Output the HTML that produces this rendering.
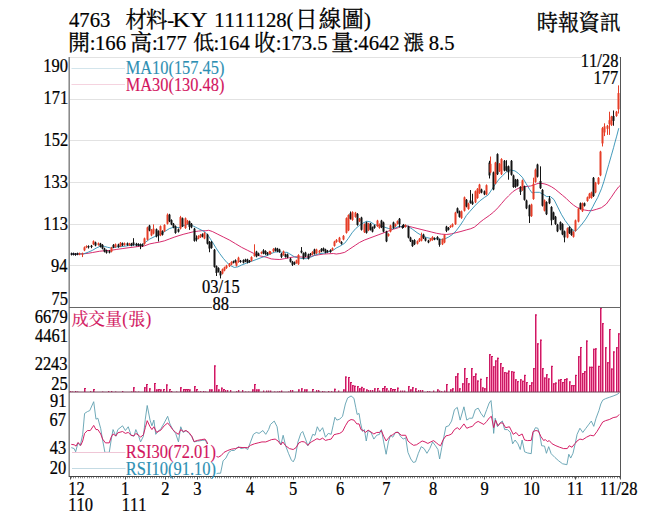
<!DOCTYPE html>
<html><head><meta charset="utf-8"><title>4763 chart</title>
<style>
html,body{margin:0;padding:0;background:#fff;}
body{width:656px;height:527px;overflow:hidden;font-family:"Liberation Serif",serif;}
svg{display:block;}
text{font-family:"Liberation Serif","Noto Serif CJK SC",serif;font-kerning:none;font-variant-ligatures:none;}
</style></head><body>
<svg width="656" height="527" viewBox="0 0 656 527"><line x1="69.7" y1="57.5" x2="620.5" y2="57.5" stroke="#e2e2e2" stroke-width="1"/>
<line x1="69.7" y1="99.5" x2="620.5" y2="99.5" stroke="#e2e2e2" stroke-width="1"/>
<line x1="69.7" y1="140.5" x2="620.5" y2="140.5" stroke="#e2e2e2" stroke-width="1"/>
<line x1="69.7" y1="182.5" x2="620.5" y2="182.5" stroke="#e2e2e2" stroke-width="1"/>
<line x1="69.7" y1="224.5" x2="620.5" y2="224.5" stroke="#e2e2e2" stroke-width="1"/>
<line x1="69.7" y1="265.5" x2="620.5" y2="265.5" stroke="#e2e2e2" stroke-width="1"/>
<line x1="71.5" y1="68.5" x2="125" y2="68.5" stroke="#d3e5ec" stroke-width="1"/>
<line x1="71.5" y1="84.5" x2="125" y2="84.5" stroke="#f5d3df" stroke-width="1"/>
<polyline fill="none" stroke="#d2145e" stroke-width="0.9" stroke-linejoin="round" points="71.05,254.02 77.76,254.02 83.85,253.78 88.12,253.29 92.39,252.56 99.71,251.22 104.59,250.73 110.68,250.37 116.78,249.39 122.88,248.54 128.98,247.68 135.07,246.95 139.95,246.22 141.22,246.71 144.88,245.73 149.76,243.9 154.63,242.93 159.51,242.07 164.39,240.85 169.27,239.02 174.15,237.2 179.02,235.61 183.9,234.15 188.78,232.93 193.66,231.71 198.54,231.1 203.41,230.49 205,230.88 208.66,230.27 212.32,231.49 217.2,233.93 223.29,236.98 229.39,240.02 235.49,243.68 241.59,247.34 247.68,250.39 253.78,253.44 259.88,255.88 265.98,257.1 271.22,258.9 274.88,259.27 279.76,259.51 284.63,258.66 289.51,257.68 294.39,256.83 299.27,256.83 304.15,257.2 309.02,256.83 313.9,255.61 318.78,254.76 323.66,254.02 328.54,253.78 333.41,253.54 336.22,254.02 339.88,253.54 344.76,252.32 348.41,249.88 352.07,247.44 355.73,245 359.39,242.56 364.27,240.12 369.15,238.29 374.02,236.46 378.9,234.63 383.78,232.8 388.66,230.98 393.54,229.15 398.41,227.68 401.22,226.46 407.32,225.98 412.2,227.2 417.07,228.41 421.95,229.63 426.83,230.85 431.71,232.07 436.59,233.29 441.46,234.15 446.34,234.51 451.22,233.9 456.1,232.68 460.98,231.46 466.22,229.95 470.73,228.73 474.39,227.15 478.05,224.1 480,222.27 483.29,219.71 489.39,215.44 493.66,212.02 497.93,207.76 501.59,203.49 505.24,199.22 508.9,195.56 512.56,191.9 516.22,189.46 519.88,187.63 523.54,186.78 527.2,186.41 530.24,186.05 532.07,185.61 534.51,184.63 538.17,183.41 541.83,183.41 545,184.02 547.93,185 551.59,186.83 555.24,189.27 558.9,192.32 562.56,195.37 566.22,198.41 569.88,202.07 573.54,205.12 577.2,207.56 580.85,208.78 584.51,210 588.17,210.61 591.83,210.61 596.59,209.27 601.46,207.68 606.34,204.02 611.22,197.32 614.88,191.83 618.54,186.95 620.37,185.37"/>
<polyline fill="none" stroke="#2e8fb3" stroke-width="0.9" stroke-linejoin="round" points="71.05,254.02 77.76,254.02 83.85,253.78 88.12,252.2 92.39,250.37 96.05,248.17 99.71,246.46 102.15,246.1 104.59,246.46 107.63,247.32 110.68,247.93 113.73,247.56 116.78,246.95 122.88,246.46 128.98,245.49 135.07,244.88 141.22,245.37 144.88,242.68 149.76,239.02 154.63,236.59 159.51,234.76 164.39,231.71 169.27,228.66 174.15,227.07 176.59,227.44 180.24,227.44 185.12,225 188.78,224.15 192.44,225.61 197.32,228.05 202.2,230.49 205,232.1 208.66,236.37 212.32,241.85 215.98,247.95 219.63,253.44 223.29,258.32 226.95,262.59 230.61,265.63 234.27,267.46 237.93,266.85 241.59,265.02 246.46,263.2 251.34,261.37 256.22,259.54 261.1,257.71 265.98,255.88 270.85,254.05 271.22,253.54 274.88,252.07 278.54,251.83 282.2,252.32 287.07,252.32 289.51,253.78 294.39,256.83 299.27,258.05 302.93,258.66 306.59,258.66 310.24,257.44 313.9,255.61 318.78,253.78 323.66,253.17 328.54,251.95 333.41,250.12 336.22,248.05 339.88,246.22 344.76,243.17 348.41,238.29 352.07,232.8 355.73,228.54 359.39,225.49 363.05,223.05 366.71,221.22 370.37,221.83 374.02,224.27 377.68,225.49 381.34,226.1 385,227.32 388.66,228.54 392.32,228.9 395.98,227.68 399.63,226.1 401.22,226.59 404.27,225.61 407.32,225.98 412.2,229.02 417.07,232.68 421.95,235.73 426.83,237.56 431.71,238.78 436.59,238.78 441.46,239.39 445.12,238.78 448.78,236.95 452.44,234.51 456.1,230.85 459.76,225.98 463.41,220.49 466.22,215.68 469.88,211.41 474.76,205.93 479.63,201.05 484.51,197.39 488.17,194.95 491.83,189.46 495.49,183.98 499.15,179.1 502.8,175.44 506.46,171.78 510.12,169.95 515,170.93 518.66,173.61 522.32,177.27 525.98,183.37 529.63,189.46 532.07,192.93 535.73,192.32 539.39,192.32 543.05,194.15 546.71,196.59 550.37,196.59 554.02,199.63 557.68,206.95 561.34,214.27 565,220.37 568.66,225.24 572.32,229.51 575.37,231.34 578.41,228.29 582.07,224.02 585.73,219.15 589.39,213.05 593.05,206.34 594.15,204.02 597.8,197.32 601.46,188.78 603.9,181.46 606.34,172.93 608.78,164.39 611.22,155.85 613.66,147.32 614.51,144.02 616.71,136.1 618.78,128.17"/>
<rect x="71" y="252.61" width="1" height="2.82" fill="#141414"/>
<rect x="70.5" y="253.41" width="2" height="1.22" fill="#141414"/>
<rect x="73" y="252.61" width="1" height="2.82" fill="#141414"/>
<rect x="72.5" y="253.41" width="2" height="1.22" fill="#141414"/>
<rect x="75" y="252.98" width="1" height="2.82" fill="#141414"/>
<rect x="74.5" y="253.78" width="2" height="1.22" fill="#141414"/>
<rect x="77" y="252.61" width="1" height="2.6" fill="#141414"/>
<rect x="76.5" y="253.41" width="2" height="1" fill="#141414"/>
<rect x="79" y="252.61" width="1" height="2.6" fill="#e63e28"/>
<rect x="78.5" y="253.41" width="2" height="1" fill="#e63e28"/>
<rect x="82" y="252.61" width="1" height="4.46" fill="#e63e28"/>
<rect x="81.5" y="253.41" width="2" height="1.22" fill="#e63e28"/>
<rect x="84" y="246.46" width="1" height="4.7" fill="#e63e28"/>
<rect x="83.5" y="247.32" width="2" height="3.05" fill="#e63e28"/>
<rect x="86" y="245.3" width="1" height="2.82" fill="#e63e28"/>
<rect x="85.5" y="246.1" width="2" height="1.22" fill="#e63e28"/>
<rect x="88" y="245.3" width="1" height="3.24" fill="#141414"/>
<rect x="87.5" y="246.1" width="2" height="1.22" fill="#141414"/>
<rect x="91" y="244.93" width="1" height="3.24" fill="#141414"/>
<rect x="90.5" y="245.73" width="2" height="1.22" fill="#141414"/>
<rect x="93" y="240.37" width="1" height="4.7" fill="#e63e28"/>
<rect x="92.5" y="241.22" width="2" height="3.05" fill="#e63e28"/>
<rect x="95" y="241.64" width="1" height="4.65" fill="#141414"/>
<rect x="94.5" y="242.44" width="2" height="3.05" fill="#141414"/>
<rect x="98" y="242.49" width="1" height="3.19" fill="#e63e28"/>
<rect x="97.5" y="243.29" width="2" height="1.59" fill="#e63e28"/>
<rect x="100" y="242.86" width="1" height="4.65" fill="#141414"/>
<rect x="99.5" y="243.66" width="2" height="3.05" fill="#141414"/>
<rect x="102" y="244.08" width="1" height="5.26" fill="#141414"/>
<rect x="101.5" y="244.88" width="2" height="3.66" fill="#141414"/>
<rect x="104" y="247.74" width="1" height="4.65" fill="#141414"/>
<rect x="103.5" y="248.54" width="2" height="3.05" fill="#141414"/>
<rect x="106" y="249.57" width="1" height="4.04" fill="#141414"/>
<rect x="105.5" y="250.37" width="2" height="2.44" fill="#141414"/>
<rect x="109" y="250.18" width="1" height="3.19" fill="#141414"/>
<rect x="108.5" y="250.98" width="2" height="1.59" fill="#141414"/>
<rect x="111" y="246.88" width="1" height="5.5" fill="#e63e28"/>
<rect x="110.5" y="247.68" width="2" height="3.9" fill="#e63e28"/>
<rect x="113" y="244.08" width="1" height="4.04" fill="#141414"/>
<rect x="112.5" y="244.88" width="2" height="2.44" fill="#141414"/>
<rect x="115" y="243.47" width="1" height="4.28" fill="#e63e28"/>
<rect x="114.5" y="244.27" width="2" height="2.68" fill="#e63e28"/>
<rect x="118" y="243.71" width="1" height="4.04" fill="#141414"/>
<rect x="117.5" y="244.51" width="2" height="2.44" fill="#141414"/>
<rect x="120" y="242" width="1" height="4.89" fill="#e63e28"/>
<rect x="119.5" y="242.8" width="2" height="3.29" fill="#e63e28"/>
<rect x="122" y="242.49" width="1" height="3.55" fill="#141414"/>
<rect x="121.5" y="243.29" width="2" height="1.95" fill="#141414"/>
<rect x="124" y="242.49" width="1" height="3.19" fill="#e63e28"/>
<rect x="123.5" y="243.29" width="2" height="1.59" fill="#e63e28"/>
<rect x="127" y="242.49" width="1" height="3.31" fill="#141414"/>
<rect x="126.5" y="243.29" width="2" height="1.71" fill="#141414"/>
<rect x="129" y="242.86" width="1" height="3.06" fill="#e63e28"/>
<rect x="128.5" y="243.66" width="2" height="1.46" fill="#e63e28"/>
<rect x="131" y="242.86" width="1" height="3.43" fill="#141414"/>
<rect x="130.5" y="243.66" width="2" height="1.83" fill="#141414"/>
<rect x="133" y="238.17" width="1" height="7.51" fill="#141414"/>
<rect x="132.5" y="242.44" width="2" height="2.44" fill="#141414"/>
<rect x="136" y="242.86" width="1" height="3.43" fill="#141414"/>
<rect x="135.5" y="243.66" width="2" height="1.83" fill="#141414"/>
<rect x="138" y="243.22" width="1" height="3.06" fill="#141414"/>
<rect x="137.5" y="244.02" width="2" height="1.46" fill="#141414"/>
<rect x="140" y="243.47" width="1" height="5.68" fill="#141414"/>
<rect x="139.5" y="244.27" width="2" height="1.83" fill="#141414"/>
<rect x="142" y="243.47" width="1" height="3.43" fill="#141414"/>
<rect x="141.5" y="244.27" width="2" height="1.83" fill="#141414"/>
<rect x="144" y="237.61" width="1" height="7.09" fill="#e63e28"/>
<rect x="143.5" y="238.41" width="2" height="5.49" fill="#e63e28"/>
<rect x="147" y="226.64" width="1" height="13.8" fill="#e63e28"/>
<rect x="146.5" y="227.44" width="2" height="12.2" fill="#e63e28"/>
<rect x="149" y="224.81" width="1" height="6.48" fill="#141414"/>
<rect x="148.5" y="225.61" width="2" height="4.88" fill="#141414"/>
<rect x="151" y="229.08" width="1" height="7.09" fill="#e63e28"/>
<rect x="150.5" y="229.88" width="2" height="5.49" fill="#e63e28"/>
<rect x="153" y="224.39" width="1" height="9.95" fill="#e63e28"/>
<rect x="152.5" y="228.66" width="2" height="4.88" fill="#e63e28"/>
<rect x="156" y="228.47" width="1" height="8.92" fill="#141414"/>
<rect x="155.5" y="229.27" width="2" height="7.32" fill="#141414"/>
<rect x="158" y="230.3" width="1" height="11.17" fill="#141414"/>
<rect x="157.5" y="231.1" width="2" height="4.27" fill="#141414"/>
<rect x="160" y="225.42" width="1" height="10.75" fill="#e63e28"/>
<rect x="159.5" y="226.22" width="2" height="9.15" fill="#e63e28"/>
<rect x="162" y="230.3" width="1" height="5.26" fill="#141414"/>
<rect x="161.5" y="231.1" width="2" height="3.66" fill="#141414"/>
<rect x="164" y="224.2" width="1" height="7.7" fill="#e63e28"/>
<rect x="163.5" y="225" width="2" height="6.1" fill="#e63e28"/>
<rect x="167" y="213.41" width="1" height="11.17" fill="#e63e28"/>
<rect x="166.5" y="214.63" width="2" height="9.15" fill="#e63e28"/>
<rect x="169" y="213.83" width="1" height="8.31" fill="#141414"/>
<rect x="168.5" y="214.63" width="2" height="6.71" fill="#141414"/>
<rect x="171" y="219.32" width="1" height="5.87" fill="#141414"/>
<rect x="170.5" y="220.12" width="2" height="4.27" fill="#141414"/>
<rect x="173" y="222.98" width="1" height="5.26" fill="#141414"/>
<rect x="172.5" y="223.78" width="2" height="3.66" fill="#141414"/>
<rect x="175" y="225.42" width="1" height="8.31" fill="#141414"/>
<rect x="174.5" y="226.22" width="2" height="6.71" fill="#141414"/>
<rect x="178" y="228.47" width="1" height="4.04" fill="#141414"/>
<rect x="177.5" y="229.27" width="2" height="2.44" fill="#141414"/>
<rect x="180" y="215.85" width="1" height="13.6" fill="#e63e28"/>
<rect x="179.5" y="217.07" width="2" height="11.59" fill="#e63e28"/>
<rect x="182" y="217.49" width="1" height="9.53" fill="#141414"/>
<rect x="181.5" y="218.29" width="2" height="7.93" fill="#141414"/>
<rect x="185" y="217.49" width="1" height="11.36" fill="#e63e28"/>
<rect x="184.5" y="218.29" width="2" height="9.76" fill="#e63e28"/>
<rect x="187" y="219.93" width="1" height="4.65" fill="#e63e28"/>
<rect x="186.5" y="220.73" width="2" height="3.05" fill="#e63e28"/>
<rect x="189" y="220.54" width="1" height="9.34" fill="#141414"/>
<rect x="188.5" y="221.34" width="2" height="5.49" fill="#141414"/>
<rect x="191" y="222.98" width="1" height="5.26" fill="#141414"/>
<rect x="190.5" y="223.78" width="2" height="3.66" fill="#141414"/>
<rect x="194" y="227.86" width="1" height="13.8" fill="#141414"/>
<rect x="193.5" y="228.66" width="2" height="12.2" fill="#141414"/>
<rect x="196" y="235.37" width="1" height="6.1" fill="#141414"/>
<rect x="195.5" y="237.8" width="2" height="1.83" fill="#141414"/>
<rect x="198" y="235.18" width="1" height="4.04" fill="#e63e28"/>
<rect x="197.5" y="235.98" width="2" height="2.44" fill="#e63e28"/>
<rect x="200" y="233.96" width="1" height="4.04" fill="#e63e28"/>
<rect x="199.5" y="234.76" width="2" height="2.44" fill="#e63e28"/>
<rect x="202" y="233.35" width="1" height="4.04" fill="#141414"/>
<rect x="201.5" y="234.15" width="2" height="2.44" fill="#141414"/>
<rect x="204" y="232.13" width="1" height="7.09" fill="#e63e28"/>
<rect x="203.5" y="232.93" width="2" height="5.49" fill="#e63e28"/>
<rect x="207" y="233.74" width="1" height="10.75" fill="#141414"/>
<rect x="206.5" y="234.54" width="2" height="9.15" fill="#141414"/>
<rect x="209" y="241.05" width="1" height="11.17" fill="#141414"/>
<rect x="208.5" y="241.85" width="2" height="6.71" fill="#141414"/>
<rect x="211" y="241.05" width="1" height="7.7" fill="#141414"/>
<rect x="210.5" y="241.85" width="2" height="6.1" fill="#141414"/>
<rect x="214" y="248.98" width="1" height="18.67" fill="#141414"/>
<rect x="213.5" y="249.78" width="2" height="17.07" fill="#141414"/>
<rect x="216" y="265.44" width="1" height="10.56" fill="#141414"/>
<rect x="215.5" y="266.24" width="2" height="6.71" fill="#141414"/>
<rect x="218" y="267.27" width="1" height="5.26" fill="#141414"/>
<rect x="217.5" y="268.07" width="2" height="3.66" fill="#141414"/>
<rect x="220" y="270.93" width="1" height="7.51" fill="#141414"/>
<rect x="219.5" y="271.73" width="2" height="3.66" fill="#141414"/>
<rect x="222" y="268.49" width="1" height="5.87" fill="#e63e28"/>
<rect x="221.5" y="269.29" width="2" height="4.27" fill="#e63e28"/>
<rect x="224" y="266.66" width="1" height="4.65" fill="#e63e28"/>
<rect x="223.5" y="267.46" width="2" height="3.05" fill="#e63e28"/>
<rect x="226" y="264.83" width="1" height="4.04" fill="#e63e28"/>
<rect x="225.5" y="265.63" width="2" height="2.44" fill="#e63e28"/>
<rect x="229" y="263" width="1" height="4.04" fill="#e63e28"/>
<rect x="228.5" y="263.8" width="2" height="2.44" fill="#e63e28"/>
<rect x="231" y="261.18" width="1" height="4.04" fill="#e63e28"/>
<rect x="230.5" y="261.98" width="2" height="2.44" fill="#e63e28"/>
<rect x="233" y="260.57" width="1" height="2.82" fill="#141414"/>
<rect x="232.5" y="261.37" width="2" height="1.22" fill="#141414"/>
<rect x="235" y="259.35" width="1" height="4.04" fill="#141414"/>
<rect x="234.5" y="260.15" width="2" height="2.44" fill="#141414"/>
<rect x="236" y="261.18" width="1" height="5.26" fill="#e63e28"/>
<rect x="235.5" y="261.98" width="2" height="3.66" fill="#e63e28"/>
<rect x="238" y="256.73" width="1" height="6.04" fill="#e63e28"/>
<rect x="237.5" y="257.71" width="2" height="4.27" fill="#e63e28"/>
<rect x="240" y="259.96" width="1" height="2.82" fill="#141414"/>
<rect x="239.5" y="260.76" width="2" height="1.22" fill="#141414"/>
<rect x="243" y="259.35" width="1" height="4.04" fill="#141414"/>
<rect x="242.5" y="260.15" width="2" height="2.44" fill="#141414"/>
<rect x="245" y="258.74" width="1" height="3.43" fill="#141414"/>
<rect x="244.5" y="259.54" width="2" height="1.83" fill="#141414"/>
<rect x="247" y="258.74" width="1" height="4.65" fill="#141414"/>
<rect x="246.5" y="259.54" width="2" height="3.05" fill="#141414"/>
<rect x="249" y="259.96" width="1" height="2.82" fill="#141414"/>
<rect x="248.5" y="260.76" width="2" height="1.22" fill="#141414"/>
<rect x="251" y="256.3" width="1" height="5.26" fill="#e63e28"/>
<rect x="250.5" y="257.1" width="2" height="3.66" fill="#e63e28"/>
<rect x="254" y="244.29" width="1" height="12.39" fill="#e63e28"/>
<rect x="253.5" y="254.05" width="2" height="1.83" fill="#e63e28"/>
<rect x="256" y="250.81" width="1" height="6.48" fill="#141414"/>
<rect x="255.5" y="251.61" width="2" height="4.88" fill="#141414"/>
<rect x="258" y="252.64" width="1" height="3.43" fill="#141414"/>
<rect x="257.5" y="253.44" width="2" height="1.83" fill="#141414"/>
<rect x="261" y="251.42" width="1" height="2.82" fill="#e63e28"/>
<rect x="260.5" y="252.22" width="2" height="1.22" fill="#e63e28"/>
<rect x="263" y="249.17" width="1" height="5.07" fill="#141414"/>
<rect x="262.5" y="250.39" width="2" height="3.05" fill="#141414"/>
<rect x="265" y="250.2" width="1" height="4.65" fill="#141414"/>
<rect x="264.5" y="251" width="2" height="3.05" fill="#141414"/>
<rect x="267" y="252.03" width="1" height="3.43" fill="#141414"/>
<rect x="266.5" y="252.83" width="2" height="1.83" fill="#141414"/>
<rect x="269" y="250.81" width="1" height="3.43" fill="#e63e28"/>
<rect x="268.5" y="251.61" width="2" height="1.83" fill="#e63e28"/>
<rect x="270" y="251.15" width="1" height="3.43" fill="#e63e28"/>
<rect x="269.5" y="251.95" width="2" height="1.83" fill="#e63e28"/>
<rect x="273" y="248.1" width="1" height="4.04" fill="#e63e28"/>
<rect x="272.5" y="248.9" width="2" height="2.44" fill="#e63e28"/>
<rect x="275" y="247.49" width="1" height="4.04" fill="#141414"/>
<rect x="274.5" y="248.29" width="2" height="2.44" fill="#141414"/>
<rect x="277" y="247.86" width="1" height="4.28" fill="#141414"/>
<rect x="276.5" y="248.66" width="2" height="2.68" fill="#141414"/>
<rect x="279" y="248.71" width="1" height="4.04" fill="#141414"/>
<rect x="278.5" y="249.51" width="2" height="2.44" fill="#141414"/>
<rect x="281" y="252.98" width="1" height="5.07" fill="#141414"/>
<rect x="280.5" y="253.78" width="2" height="3.05" fill="#141414"/>
<rect x="283" y="250.54" width="1" height="5.26" fill="#e63e28"/>
<rect x="282.5" y="251.34" width="2" height="3.66" fill="#e63e28"/>
<rect x="285" y="253.59" width="1" height="4.04" fill="#141414"/>
<rect x="284.5" y="254.39" width="2" height="2.44" fill="#141414"/>
<rect x="287" y="253.59" width="1" height="4.65" fill="#141414"/>
<rect x="286.5" y="254.39" width="2" height="3.05" fill="#141414"/>
<rect x="290" y="257.86" width="1" height="4.65" fill="#141414"/>
<rect x="289.5" y="258.66" width="2" height="3.05" fill="#141414"/>
<rect x="292" y="260.91" width="1" height="5.07" fill="#141414"/>
<rect x="291.5" y="261.71" width="2" height="3.05" fill="#141414"/>
<rect x="294" y="261.52" width="1" height="3.43" fill="#141414"/>
<rect x="293.5" y="262.32" width="2" height="1.83" fill="#141414"/>
<rect x="296" y="259.69" width="1" height="4.04" fill="#e63e28"/>
<rect x="295.5" y="260.49" width="2" height="2.44" fill="#e63e28"/>
<rect x="298" y="254.2" width="1" height="10.75" fill="#e63e28"/>
<rect x="297.5" y="255" width="2" height="9.15" fill="#e63e28"/>
<rect x="301" y="247.07" width="1" height="6.29" fill="#141414"/>
<rect x="300.5" y="250.73" width="2" height="1.83" fill="#141414"/>
<rect x="303" y="252.37" width="1" height="7.09" fill="#141414"/>
<rect x="302.5" y="253.17" width="2" height="5.49" fill="#141414"/>
<rect x="305" y="251.76" width="1" height="5.26" fill="#141414"/>
<rect x="304.5" y="252.56" width="2" height="3.66" fill="#141414"/>
<rect x="308" y="253.59" width="1" height="5.87" fill="#141414"/>
<rect x="307.5" y="254.39" width="2" height="4.27" fill="#141414"/>
<rect x="310" y="252.98" width="1" height="2.82" fill="#141414"/>
<rect x="309.5" y="253.78" width="2" height="1.22" fill="#141414"/>
<rect x="312" y="251.15" width="1" height="4.04" fill="#e63e28"/>
<rect x="311.5" y="251.95" width="2" height="2.44" fill="#e63e28"/>
<rect x="314" y="248.71" width="1" height="5.87" fill="#141414"/>
<rect x="313.5" y="249.51" width="2" height="4.27" fill="#141414"/>
<rect x="316" y="248.71" width="1" height="5.26" fill="#e63e28"/>
<rect x="315.5" y="249.51" width="2" height="3.66" fill="#e63e28"/>
<rect x="319" y="249.93" width="1" height="3.43" fill="#e63e28"/>
<rect x="318.5" y="250.73" width="2" height="1.83" fill="#e63e28"/>
<rect x="321" y="248.1" width="1" height="4.04" fill="#141414"/>
<rect x="320.5" y="248.9" width="2" height="2.44" fill="#141414"/>
<rect x="323" y="247.49" width="1" height="4.04" fill="#141414"/>
<rect x="322.5" y="248.29" width="2" height="2.44" fill="#141414"/>
<rect x="325" y="248.71" width="1" height="4.65" fill="#141414"/>
<rect x="324.5" y="249.51" width="2" height="3.05" fill="#141414"/>
<rect x="327" y="249.93" width="1" height="2.82" fill="#141414"/>
<rect x="326.5" y="250.73" width="2" height="1.22" fill="#141414"/>
<rect x="330" y="249.32" width="1" height="3.43" fill="#141414"/>
<rect x="329.5" y="250.12" width="2" height="1.83" fill="#141414"/>
<rect x="332" y="247.49" width="1" height="3.43" fill="#e63e28"/>
<rect x="331.5" y="248.29" width="2" height="1.83" fill="#e63e28"/>
<rect x="334" y="240.79" width="1" height="5.87" fill="#e63e28"/>
<rect x="333.5" y="241.59" width="2" height="4.27" fill="#e63e28"/>
<rect x="336" y="239.08" width="1" height="3.67" fill="#e63e28"/>
<rect x="335.5" y="239.88" width="2" height="2.07" fill="#e63e28"/>
<rect x="339" y="236.88" width="1" height="5.87" fill="#e63e28"/>
<rect x="338.5" y="237.68" width="2" height="4.27" fill="#e63e28"/>
<rect x="341" y="241.15" width="1" height="3.43" fill="#141414"/>
<rect x="340.5" y="241.95" width="2" height="1.83" fill="#141414"/>
<rect x="343" y="235.05" width="1" height="5.26" fill="#e63e28"/>
<rect x="342.5" y="235.85" width="2" height="3.66" fill="#e63e28"/>
<rect x="346" y="217.37" width="1" height="16.23" fill="#e63e28"/>
<rect x="345.5" y="218.17" width="2" height="14.63" fill="#e63e28"/>
<rect x="348" y="214.32" width="1" height="16.84" fill="#e63e28"/>
<rect x="347.5" y="215.12" width="2" height="15.24" fill="#e63e28"/>
<rect x="350" y="211.46" width="1" height="8.12" fill="#141414"/>
<rect x="349.5" y="213.29" width="2" height="5.49" fill="#141414"/>
<rect x="352" y="211.27" width="1" height="9.53" fill="#e63e28"/>
<rect x="351.5" y="212.07" width="2" height="7.93" fill="#e63e28"/>
<rect x="355" y="211.88" width="1" height="5.87" fill="#e63e28"/>
<rect x="354.5" y="212.68" width="2" height="4.27" fill="#e63e28"/>
<rect x="357" y="213.1" width="1" height="12.58" fill="#141414"/>
<rect x="356.5" y="213.9" width="2" height="10.98" fill="#141414"/>
<rect x="359" y="217.98" width="1" height="4.04" fill="#e63e28"/>
<rect x="358.5" y="218.78" width="2" height="2.44" fill="#e63e28"/>
<rect x="361" y="216.76" width="1" height="13.8" fill="#141414"/>
<rect x="360.5" y="217.56" width="2" height="12.2" fill="#141414"/>
<rect x="364" y="223.47" width="1" height="9.53" fill="#e63e28"/>
<rect x="363.5" y="224.27" width="2" height="7.93" fill="#e63e28"/>
<rect x="366" y="221.64" width="1" height="11.97" fill="#141414"/>
<rect x="365.5" y="222.44" width="2" height="10.37" fill="#141414"/>
<rect x="368" y="222.86" width="1" height="8.31" fill="#e63e28"/>
<rect x="367.5" y="223.66" width="2" height="6.71" fill="#e63e28"/>
<rect x="370" y="222.86" width="1" height="7.7" fill="#141414"/>
<rect x="369.5" y="223.66" width="2" height="6.1" fill="#141414"/>
<rect x="372" y="226.52" width="1" height="5.87" fill="#141414"/>
<rect x="371.5" y="227.32" width="2" height="4.27" fill="#141414"/>
<rect x="374" y="224.69" width="1" height="4.04" fill="#141414"/>
<rect x="373.5" y="225.49" width="2" height="2.44" fill="#141414"/>
<rect x="377" y="219.81" width="1" height="7.09" fill="#e63e28"/>
<rect x="376.5" y="220.61" width="2" height="5.49" fill="#e63e28"/>
<rect x="379" y="223.47" width="1" height="5.26" fill="#e63e28"/>
<rect x="378.5" y="224.27" width="2" height="3.66" fill="#e63e28"/>
<rect x="381" y="219.81" width="1" height="8.31" fill="#141414"/>
<rect x="380.5" y="220.61" width="2" height="6.71" fill="#141414"/>
<rect x="383" y="221.64" width="1" height="10.75" fill="#141414"/>
<rect x="382.5" y="222.44" width="2" height="9.15" fill="#141414"/>
<rect x="386" y="230.79" width="1" height="11.36" fill="#141414"/>
<rect x="385.5" y="231.59" width="2" height="9.76" fill="#141414"/>
<rect x="388" y="233.22" width="1" height="3.43" fill="#e63e28"/>
<rect x="387.5" y="234.02" width="2" height="1.83" fill="#e63e28"/>
<rect x="390" y="224.69" width="1" height="7.7" fill="#e63e28"/>
<rect x="389.5" y="225.49" width="2" height="6.1" fill="#e63e28"/>
<rect x="393" y="221.64" width="1" height="7.09" fill="#141414"/>
<rect x="392.5" y="222.44" width="2" height="5.49" fill="#141414"/>
<rect x="395" y="223.47" width="1" height="3.43" fill="#e63e28"/>
<rect x="394.5" y="224.27" width="2" height="1.83" fill="#e63e28"/>
<rect x="397" y="220.42" width="1" height="4.04" fill="#e63e28"/>
<rect x="396.5" y="221.22" width="2" height="2.44" fill="#e63e28"/>
<rect x="399" y="217.98" width="1" height="9.34" fill="#141414"/>
<rect x="398.5" y="218.78" width="2" height="5.49" fill="#141414"/>
<rect x="402" y="225.3" width="1" height="3.43" fill="#141414"/>
<rect x="401.5" y="226.1" width="2" height="1.83" fill="#141414"/>
<rect x="403" y="223.96" width="1" height="4.04" fill="#141414"/>
<rect x="402.5" y="224.76" width="2" height="2.44" fill="#141414"/>
<rect x="405" y="224.32" width="1" height="3.31" fill="#e63e28"/>
<rect x="404.5" y="225.12" width="2" height="1.71" fill="#e63e28"/>
<rect x="408" y="225.79" width="1" height="12.58" fill="#141414"/>
<rect x="407.5" y="226.59" width="2" height="10.98" fill="#141414"/>
<rect x="410" y="236.76" width="1" height="5.26" fill="#141414"/>
<rect x="409.5" y="237.56" width="2" height="3.66" fill="#141414"/>
<rect x="412" y="239.81" width="1" height="7.09" fill="#141414"/>
<rect x="411.5" y="240.61" width="2" height="5.49" fill="#141414"/>
<rect x="414" y="239.2" width="1" height="5.87" fill="#141414"/>
<rect x="413.5" y="240" width="2" height="4.27" fill="#141414"/>
<rect x="417" y="240.42" width="1" height="4.04" fill="#e63e28"/>
<rect x="416.5" y="241.22" width="2" height="2.44" fill="#e63e28"/>
<rect x="419" y="237.98" width="1" height="4.04" fill="#e63e28"/>
<rect x="418.5" y="238.78" width="2" height="2.44" fill="#e63e28"/>
<rect x="421" y="232.68" width="1" height="8.73" fill="#e63e28"/>
<rect x="420.5" y="235.73" width="2" height="4.88" fill="#e63e28"/>
<rect x="423" y="233.71" width="1" height="5.26" fill="#141414"/>
<rect x="422.5" y="234.51" width="2" height="3.66" fill="#141414"/>
<rect x="425" y="237.37" width="1" height="4.04" fill="#141414"/>
<rect x="424.5" y="238.17" width="2" height="2.44" fill="#141414"/>
<rect x="428" y="239.81" width="1" height="3.43" fill="#141414"/>
<rect x="427.5" y="240.61" width="2" height="1.83" fill="#141414"/>
<rect x="430" y="237.98" width="1" height="3.43" fill="#e63e28"/>
<rect x="429.5" y="238.78" width="2" height="1.83" fill="#e63e28"/>
<rect x="432" y="236.15" width="1" height="4.65" fill="#e63e28"/>
<rect x="431.5" y="236.95" width="2" height="3.05" fill="#e63e28"/>
<rect x="434" y="237.37" width="1" height="2.82" fill="#141414"/>
<rect x="433.5" y="238.17" width="2" height="1.22" fill="#141414"/>
<rect x="437" y="236.15" width="1" height="4.04" fill="#141414"/>
<rect x="436.5" y="236.95" width="2" height="2.44" fill="#141414"/>
<rect x="439" y="238.59" width="1" height="8.12" fill="#141414"/>
<rect x="438.5" y="239.39" width="2" height="5.49" fill="#141414"/>
<rect x="442" y="238.59" width="1" height="6.48" fill="#e63e28"/>
<rect x="441.5" y="239.39" width="2" height="4.88" fill="#e63e28"/>
<rect x="444" y="234.32" width="1" height="8.92" fill="#e63e28"/>
<rect x="443.5" y="235.12" width="2" height="7.32" fill="#e63e28"/>
<rect x="446" y="225.79" width="1" height="6.29" fill="#141414"/>
<rect x="445.5" y="226.59" width="2" height="4.27" fill="#141414"/>
<rect x="448" y="227" width="1" height="3.43" fill="#141414"/>
<rect x="447.5" y="227.8" width="2" height="1.83" fill="#141414"/>
<rect x="450" y="225.18" width="1" height="2.82" fill="#e63e28"/>
<rect x="449.5" y="225.98" width="2" height="1.22" fill="#e63e28"/>
<rect x="452" y="223.35" width="1" height="4.04" fill="#e63e28"/>
<rect x="451.5" y="224.15" width="2" height="2.44" fill="#e63e28"/>
<rect x="455" y="211.76" width="1" height="13.19" fill="#e63e28"/>
<rect x="454.5" y="212.56" width="2" height="11.59" fill="#e63e28"/>
<rect x="457" y="207.49" width="1" height="5.87" fill="#141414"/>
<rect x="456.5" y="208.29" width="2" height="4.27" fill="#141414"/>
<rect x="459" y="210.54" width="1" height="7.09" fill="#141414"/>
<rect x="458.5" y="211.34" width="2" height="5.49" fill="#141414"/>
<rect x="461" y="210.54" width="1" height="8.31" fill="#e63e28"/>
<rect x="460.5" y="211.34" width="2" height="6.71" fill="#e63e28"/>
<rect x="464" y="196.52" width="1" height="15.01" fill="#e63e28"/>
<rect x="463.5" y="197.32" width="2" height="13.41" fill="#e63e28"/>
<rect x="466" y="199.03" width="1" height="8.31" fill="#141414"/>
<rect x="465.5" y="199.83" width="2" height="6.71" fill="#141414"/>
<rect x="468" y="202.69" width="1" height="7.09" fill="#e63e28"/>
<rect x="467.5" y="203.49" width="2" height="5.49" fill="#e63e28"/>
<rect x="470" y="190.07" width="1" height="13.6" fill="#141414"/>
<rect x="469.5" y="200.44" width="2" height="2.44" fill="#141414"/>
<rect x="472" y="193.73" width="1" height="11.17" fill="#141414"/>
<rect x="471.5" y="201.66" width="2" height="2.44" fill="#141414"/>
<rect x="475" y="190.49" width="1" height="12.58" fill="#e63e28"/>
<rect x="474.5" y="191.29" width="2" height="10.98" fill="#e63e28"/>
<rect x="477" y="188.05" width="1" height="10.75" fill="#e63e28"/>
<rect x="476.5" y="188.85" width="2" height="9.15" fill="#e63e28"/>
<rect x="479" y="183.79" width="1" height="10.14" fill="#e63e28"/>
<rect x="478.5" y="184.59" width="2" height="8.54" fill="#e63e28"/>
<rect x="481" y="188.66" width="1" height="4.65" fill="#141414"/>
<rect x="480.5" y="189.46" width="2" height="3.05" fill="#141414"/>
<rect x="484" y="190.49" width="1" height="4.65" fill="#141414"/>
<rect x="483.5" y="191.29" width="2" height="3.05" fill="#141414"/>
<rect x="486" y="184.4" width="1" height="10.75" fill="#e63e28"/>
<rect x="485.5" y="185.2" width="2" height="9.15" fill="#e63e28"/>
<rect x="489" y="160.8" width="1" height="17.68" fill="#141414"/>
<rect x="488.5" y="162.63" width="2" height="12.8" fill="#141414"/>
<rect x="490" y="156.54" width="1" height="16.65" fill="#e63e28"/>
<rect x="489.5" y="163.85" width="2" height="8.54" fill="#e63e28"/>
<rect x="493" y="171.59" width="1" height="18.67" fill="#141414"/>
<rect x="492.5" y="172.39" width="2" height="17.07" fill="#141414"/>
<rect x="495" y="161.83" width="1" height="22.33" fill="#e63e28"/>
<rect x="494.5" y="162.63" width="2" height="20.73" fill="#e63e28"/>
<rect x="497" y="153.3" width="1" height="21.72" fill="#141414"/>
<rect x="496.5" y="154.1" width="2" height="20.12" fill="#141414"/>
<rect x="499" y="163.05" width="1" height="8.92" fill="#e63e28"/>
<rect x="498.5" y="163.85" width="2" height="7.32" fill="#e63e28"/>
<rect x="501" y="158.18" width="1" height="16.84" fill="#e63e28"/>
<rect x="500.5" y="158.98" width="2" height="15.24" fill="#e63e28"/>
<rect x="504" y="160" width="1" height="11.36" fill="#141414"/>
<rect x="503.5" y="160.8" width="2" height="9.76" fill="#141414"/>
<rect x="506" y="160.2" width="1" height="11.17" fill="#141414"/>
<rect x="505.5" y="166.29" width="2" height="4.27" fill="#141414"/>
<rect x="508" y="165.49" width="1" height="14.21" fill="#141414"/>
<rect x="507.5" y="166.29" width="2" height="6.1" fill="#141414"/>
<rect x="511" y="160" width="1" height="15.62" fill="#141414"/>
<rect x="510.5" y="160.8" width="2" height="14.02" fill="#141414"/>
<rect x="513" y="174.64" width="1" height="13.19" fill="#141414"/>
<rect x="512.5" y="175.44" width="2" height="11.59" fill="#141414"/>
<rect x="515" y="178.91" width="1" height="8.92" fill="#141414"/>
<rect x="514.5" y="179.71" width="2" height="7.32" fill="#141414"/>
<rect x="517" y="178.91" width="1" height="7.7" fill="#141414"/>
<rect x="516.5" y="179.71" width="2" height="6.1" fill="#141414"/>
<rect x="520" y="186.22" width="1" height="8.73" fill="#141414"/>
<rect x="519.5" y="187.02" width="2" height="4.88" fill="#141414"/>
<rect x="522" y="179.52" width="1" height="11.36" fill="#e63e28"/>
<rect x="521.5" y="180.32" width="2" height="9.76" fill="#e63e28"/>
<rect x="524" y="185.61" width="1" height="15.01" fill="#141414"/>
<rect x="523.5" y="186.41" width="2" height="13.41" fill="#141414"/>
<rect x="526" y="199.64" width="1" height="9.53" fill="#141414"/>
<rect x="525.5" y="200.44" width="2" height="7.93" fill="#141414"/>
<rect x="529" y="204.52" width="1" height="18.48" fill="#141414"/>
<rect x="528.5" y="205.32" width="2" height="10.98" fill="#141414"/>
<rect x="531" y="203.71" width="1" height="13.19" fill="#e63e28"/>
<rect x="530.5" y="204.51" width="2" height="11.59" fill="#e63e28"/>
<rect x="533" y="177.68" width="1" height="22.14" fill="#e63e28"/>
<rect x="532.5" y="183.78" width="2" height="15.24" fill="#e63e28"/>
<rect x="535" y="168.54" width="1" height="14.21" fill="#e63e28"/>
<rect x="534.5" y="169.76" width="2" height="12.2" fill="#e63e28"/>
<rect x="537" y="163.71" width="1" height="13.8" fill="#141414"/>
<rect x="536.5" y="164.51" width="2" height="12.2" fill="#141414"/>
<rect x="540" y="166.34" width="1" height="22.63" fill="#141414"/>
<rect x="539.5" y="180.98" width="2" height="7.2" fill="#141414"/>
<rect x="542" y="189.08" width="1" height="17.45" fill="#141414"/>
<rect x="541.5" y="189.88" width="2" height="15.85" fill="#141414"/>
<rect x="544" y="199.44" width="1" height="11.97" fill="#e63e28"/>
<rect x="543.5" y="200.24" width="2" height="10.37" fill="#e63e28"/>
<rect x="546" y="201.27" width="1" height="13.8" fill="#141414"/>
<rect x="545.5" y="202.07" width="2" height="12.2" fill="#141414"/>
<rect x="549" y="195.98" width="1" height="8.12" fill="#141414"/>
<rect x="548.5" y="198.41" width="2" height="4.88" fill="#141414"/>
<rect x="551" y="206.15" width="1" height="19.09" fill="#141414"/>
<rect x="550.5" y="206.95" width="2" height="13.41" fill="#141414"/>
<rect x="553" y="211.64" width="1" height="8.31" fill="#141414"/>
<rect x="552.5" y="212.44" width="2" height="6.71" fill="#141414"/>
<rect x="555" y="215.91" width="1" height="8.92" fill="#141414"/>
<rect x="554.5" y="216.71" width="2" height="7.32" fill="#141414"/>
<rect x="557" y="223.83" width="1" height="8.31" fill="#141414"/>
<rect x="556.5" y="224.63" width="2" height="6.71" fill="#141414"/>
<rect x="560" y="221.4" width="1" height="8.92" fill="#141414"/>
<rect x="559.5" y="222.2" width="2" height="7.32" fill="#141414"/>
<rect x="562" y="223.22" width="1" height="11.97" fill="#141414"/>
<rect x="561.5" y="224.02" width="2" height="10.37" fill="#141414"/>
<rect x="564" y="230.54" width="1" height="11.78" fill="#141414"/>
<rect x="563.5" y="231.34" width="2" height="6.1" fill="#141414"/>
<rect x="567" y="227.49" width="1" height="10.75" fill="#e63e28"/>
<rect x="566.5" y="228.29" width="2" height="9.15" fill="#e63e28"/>
<rect x="569" y="226.27" width="1" height="7.7" fill="#141414"/>
<rect x="568.5" y="227.07" width="2" height="6.1" fill="#141414"/>
<rect x="571" y="228.71" width="1" height="7.09" fill="#141414"/>
<rect x="570.5" y="229.51" width="2" height="5.49" fill="#141414"/>
<rect x="573" y="231.15" width="1" height="6.48" fill="#e63e28"/>
<rect x="572.5" y="231.95" width="2" height="4.88" fill="#e63e28"/>
<rect x="575" y="219.57" width="1" height="11.97" fill="#e63e28"/>
<rect x="574.5" y="220.37" width="2" height="10.37" fill="#e63e28"/>
<rect x="578" y="207.98" width="1" height="14.4" fill="#e63e28"/>
<rect x="577.5" y="208.78" width="2" height="12.8" fill="#e63e28"/>
<rect x="580" y="202.49" width="1" height="7.09" fill="#141414"/>
<rect x="579.5" y="203.29" width="2" height="5.49" fill="#141414"/>
<rect x="582" y="202.49" width="1" height="9.53" fill="#e63e28"/>
<rect x="581.5" y="203.29" width="2" height="7.93" fill="#e63e28"/>
<rect x="584" y="202.49" width="1" height="4.04" fill="#141414"/>
<rect x="583.5" y="203.29" width="2" height="2.44" fill="#141414"/>
<rect x="587" y="196.52" width="1" height="5.26" fill="#e63e28"/>
<rect x="586.5" y="197.32" width="2" height="3.66" fill="#e63e28"/>
<rect x="589" y="192.86" width="1" height="5.87" fill="#e63e28"/>
<rect x="588.5" y="193.66" width="2" height="4.27" fill="#e63e28"/>
<rect x="591" y="191.64" width="1" height="7.09" fill="#e63e28"/>
<rect x="590.5" y="192.44" width="2" height="5.49" fill="#e63e28"/>
<rect x="593" y="177" width="1" height="19.89" fill="#141414"/>
<rect x="592.5" y="177.8" width="2" height="18.29" fill="#141414"/>
<rect x="595" y="181.88" width="1" height="11.36" fill="#e63e28"/>
<rect x="594.5" y="182.68" width="2" height="9.76" fill="#e63e28"/>
<rect x="598" y="177" width="1" height="7.7" fill="#e63e28"/>
<rect x="597.5" y="177.8" width="2" height="6.1" fill="#e63e28"/>
<rect x="600" y="150.79" width="1" height="25.38" fill="#e63e28"/>
<rect x="599.5" y="151.59" width="2" height="23.78" fill="#e63e28"/>
<rect x="602" y="126.95" width="1" height="19.51" fill="#e63e28"/>
<rect x="601.5" y="128.17" width="2" height="15.24" fill="#e63e28"/>
<rect x="604" y="123.29" width="1" height="12.8" fill="#e63e28"/>
<rect x="603.5" y="126.34" width="2" height="6.1" fill="#e63e28"/>
<rect x="607" y="124.93" width="1" height="9.95" fill="#e63e28"/>
<rect x="606.5" y="125.73" width="2" height="3.05" fill="#e63e28"/>
<rect x="609" y="111.71" width="1" height="23.17" fill="#e63e28"/>
<rect x="608.5" y="120.24" width="2" height="3.9" fill="#e63e28"/>
<rect x="611" y="115.79" width="1" height="10.14" fill="#e63e28"/>
<rect x="610.5" y="116.59" width="2" height="8.54" fill="#e63e28"/>
<rect x="613" y="110.49" width="1" height="15.24" fill="#141414"/>
<rect x="612.5" y="115.98" width="2" height="4.88" fill="#141414"/>
<rect x="616" y="110.91" width="1" height="5.87" fill="#e63e28"/>
<rect x="615.5" y="111.71" width="2" height="4.27" fill="#e63e28"/>
<rect x="618" y="85.37" width="1" height="28.17" fill="#e63e28"/>
<rect x="617.5" y="93.05" width="2" height="16.22" fill="#e63e28"/>
<rect x="70" y="391.2" width="1.3" height="0.8" fill="#cb1a64"/>
<rect x="72" y="391.5" width="1.3" height="0.5" fill="#cb1a64"/>
<rect x="75" y="391" width="1.3" height="1" fill="#cb1a64"/>
<rect x="77" y="391.5" width="1.3" height="0.5" fill="#cb1a64"/>
<rect x="84" y="388" width="2" height="4" fill="#f585b1"/>
<rect x="84" y="388" width="1" height="4" fill="#cb1a64"/>
<rect x="84" y="388" width="2" height="1" fill="#cb1a64"/>
<rect x="90" y="391.2" width="1.3" height="0.8" fill="#cb1a64"/>
<rect x="93" y="389" width="2" height="3" fill="#f585b1"/>
<rect x="93" y="389" width="1" height="3" fill="#cb1a64"/>
<rect x="93" y="389" width="2" height="1" fill="#cb1a64"/>
<rect x="102" y="391.5" width="1.3" height="0.5" fill="#cb1a64"/>
<rect x="108" y="391" width="1.3" height="1" fill="#cb1a64"/>
<rect x="111" y="391" width="1.3" height="1" fill="#cb1a64"/>
<rect x="115" y="391.5" width="1.3" height="0.5" fill="#cb1a64"/>
<rect x="122" y="391" width="1.3" height="1" fill="#cb1a64"/>
<rect x="131" y="391.5" width="1.3" height="0.5" fill="#cb1a64"/>
<rect x="133" y="387.3" width="2" height="4.7" fill="#f585b1"/>
<rect x="133" y="387.3" width="1" height="4.7" fill="#cb1a64"/>
<rect x="133" y="387.3" width="2" height="1" fill="#cb1a64"/>
<rect x="135" y="391.5" width="1.3" height="0.5" fill="#cb1a64"/>
<rect x="138" y="391.5" width="1.3" height="0.5" fill="#cb1a64"/>
<rect x="144" y="387.3" width="2" height="4.7" fill="#f585b1"/>
<rect x="144" y="387.3" width="1" height="4.7" fill="#cb1a64"/>
<rect x="144" y="387.3" width="2" height="1" fill="#cb1a64"/>
<rect x="146" y="384" width="2" height="8" fill="#f585b1"/>
<rect x="146" y="384" width="1" height="8" fill="#cb1a64"/>
<rect x="146" y="384" width="2" height="1" fill="#cb1a64"/>
<rect x="149" y="388.4" width="2" height="3.6" fill="#f585b1"/>
<rect x="149" y="388.4" width="1" height="3.6" fill="#cb1a64"/>
<rect x="149" y="388.4" width="2" height="1" fill="#cb1a64"/>
<rect x="154" y="383" width="2" height="9" fill="#f585b1"/>
<rect x="154" y="383" width="1" height="9" fill="#cb1a64"/>
<rect x="154" y="383" width="2" height="1" fill="#cb1a64"/>
<rect x="156" y="389.5" width="2" height="2.5" fill="#f585b1"/>
<rect x="156" y="389.5" width="1" height="2.5" fill="#cb1a64"/>
<rect x="156" y="389.5" width="2" height="1" fill="#cb1a64"/>
<rect x="158" y="389" width="2" height="3" fill="#f585b1"/>
<rect x="158" y="389" width="1" height="3" fill="#cb1a64"/>
<rect x="158" y="389" width="2" height="1" fill="#cb1a64"/>
<rect x="160" y="389.5" width="2" height="2.5" fill="#f585b1"/>
<rect x="160" y="389.5" width="1" height="2.5" fill="#cb1a64"/>
<rect x="160" y="389.5" width="2" height="1" fill="#cb1a64"/>
<rect x="163" y="389" width="2" height="3" fill="#f585b1"/>
<rect x="163" y="389" width="1" height="3" fill="#cb1a64"/>
<rect x="163" y="389" width="2" height="1" fill="#cb1a64"/>
<rect x="166" y="384.5" width="2" height="7.5" fill="#f585b1"/>
<rect x="166" y="384.5" width="1" height="7.5" fill="#cb1a64"/>
<rect x="166" y="384.5" width="2" height="1" fill="#cb1a64"/>
<rect x="169" y="389" width="2" height="3" fill="#f585b1"/>
<rect x="169" y="389" width="1" height="3" fill="#cb1a64"/>
<rect x="169" y="389" width="2" height="1" fill="#cb1a64"/>
<rect x="171" y="391" width="1.3" height="1" fill="#cb1a64"/>
<rect x="176" y="391.5" width="1.3" height="0.5" fill="#cb1a64"/>
<rect x="180" y="387.3" width="2" height="4.7" fill="#f585b1"/>
<rect x="180" y="387.3" width="1" height="4.7" fill="#cb1a64"/>
<rect x="180" y="387.3" width="2" height="1" fill="#cb1a64"/>
<rect x="183" y="389" width="2" height="3" fill="#f585b1"/>
<rect x="183" y="389" width="1" height="3" fill="#cb1a64"/>
<rect x="183" y="389" width="2" height="1" fill="#cb1a64"/>
<rect x="185" y="389" width="2" height="3" fill="#f585b1"/>
<rect x="185" y="389" width="1" height="3" fill="#cb1a64"/>
<rect x="185" y="389" width="2" height="1" fill="#cb1a64"/>
<rect x="187" y="389" width="2" height="3" fill="#f585b1"/>
<rect x="187" y="389" width="1" height="3" fill="#cb1a64"/>
<rect x="187" y="389" width="2" height="1" fill="#cb1a64"/>
<rect x="189" y="389.5" width="2" height="2.5" fill="#f585b1"/>
<rect x="189" y="389.5" width="1" height="2.5" fill="#cb1a64"/>
<rect x="189" y="389.5" width="2" height="1" fill="#cb1a64"/>
<rect x="194" y="386.2" width="2" height="5.8" fill="#f585b1"/>
<rect x="194" y="386.2" width="1" height="5.8" fill="#cb1a64"/>
<rect x="194" y="386.2" width="2" height="1" fill="#cb1a64"/>
<rect x="196" y="389" width="2" height="3" fill="#f585b1"/>
<rect x="196" y="389" width="1" height="3" fill="#cb1a64"/>
<rect x="196" y="389" width="2" height="1" fill="#cb1a64"/>
<rect x="198" y="391.5" width="1.3" height="0.5" fill="#cb1a64"/>
<rect x="200" y="391.2" width="1.3" height="0.8" fill="#cb1a64"/>
<rect x="203" y="391" width="1.3" height="1" fill="#cb1a64"/>
<rect x="205" y="391.5" width="1.3" height="0.5" fill="#cb1a64"/>
<rect x="209" y="389.5" width="2" height="2.5" fill="#f585b1"/>
<rect x="209" y="389.5" width="1" height="2.5" fill="#cb1a64"/>
<rect x="209" y="389.5" width="2" height="1" fill="#cb1a64"/>
<rect x="211" y="389.5" width="2" height="2.5" fill="#f585b1"/>
<rect x="211" y="389.5" width="1" height="2.5" fill="#cb1a64"/>
<rect x="211" y="389.5" width="2" height="1" fill="#cb1a64"/>
<rect x="214" y="365.5" width="2" height="26.5" fill="#f585b1"/>
<rect x="214" y="365.5" width="1" height="26.5" fill="#cb1a64"/>
<rect x="214" y="365.5" width="2" height="1" fill="#cb1a64"/>
<rect x="216" y="385.2" width="2" height="6.8" fill="#f585b1"/>
<rect x="216" y="385.2" width="1" height="6.8" fill="#cb1a64"/>
<rect x="216" y="385.2" width="2" height="1" fill="#cb1a64"/>
<rect x="218" y="389.5" width="2" height="2.5" fill="#f585b1"/>
<rect x="218" y="389.5" width="1" height="2.5" fill="#cb1a64"/>
<rect x="218" y="389.5" width="2" height="1" fill="#cb1a64"/>
<rect x="221" y="387.7" width="2" height="4.3" fill="#f585b1"/>
<rect x="221" y="387.7" width="1" height="4.3" fill="#cb1a64"/>
<rect x="221" y="387.7" width="2" height="1" fill="#cb1a64"/>
<rect x="223" y="389" width="2" height="3" fill="#f585b1"/>
<rect x="223" y="389" width="1" height="3" fill="#cb1a64"/>
<rect x="223" y="389" width="2" height="1" fill="#cb1a64"/>
<rect x="225" y="390" width="1.3" height="2" fill="#cb1a64"/>
<rect x="227" y="390" width="1.3" height="2" fill="#cb1a64"/>
<rect x="230" y="390" width="1.3" height="2" fill="#cb1a64"/>
<rect x="236" y="391.2" width="1.3" height="0.8" fill="#cb1a64"/>
<rect x="238" y="390" width="1.3" height="2" fill="#cb1a64"/>
<rect x="242" y="390" width="1.3" height="2" fill="#cb1a64"/>
<rect x="245" y="391.5" width="1.3" height="0.5" fill="#cb1a64"/>
<rect x="248" y="391.5" width="1.3" height="0.5" fill="#cb1a64"/>
<rect x="252" y="389.5" width="2" height="2.5" fill="#f585b1"/>
<rect x="252" y="389.5" width="1" height="2.5" fill="#cb1a64"/>
<rect x="252" y="389.5" width="2" height="1" fill="#cb1a64"/>
<rect x="254" y="384.1" width="2" height="7.9" fill="#f585b1"/>
<rect x="254" y="384.1" width="1" height="7.9" fill="#cb1a64"/>
<rect x="254" y="384.1" width="2" height="1" fill="#cb1a64"/>
<rect x="256" y="389.5" width="2" height="2.5" fill="#f585b1"/>
<rect x="256" y="389.5" width="1" height="2.5" fill="#cb1a64"/>
<rect x="256" y="389.5" width="2" height="1" fill="#cb1a64"/>
<rect x="258" y="389.5" width="2" height="2.5" fill="#f585b1"/>
<rect x="258" y="389.5" width="1" height="2.5" fill="#cb1a64"/>
<rect x="258" y="389.5" width="2" height="1" fill="#cb1a64"/>
<rect x="263" y="390.5" width="1.3" height="1.5" fill="#cb1a64"/>
<rect x="266" y="390.5" width="1.3" height="1.5" fill="#cb1a64"/>
<rect x="268" y="390.5" width="1.3" height="1.5" fill="#cb1a64"/>
<rect x="270" y="390.5" width="1.3" height="1.5" fill="#cb1a64"/>
<rect x="274" y="391.5" width="1.3" height="0.5" fill="#cb1a64"/>
<rect x="277" y="391.5" width="1.3" height="0.5" fill="#cb1a64"/>
<rect x="279" y="391.2" width="1.3" height="0.8" fill="#cb1a64"/>
<rect x="281" y="390.5" width="1.3" height="1.5" fill="#cb1a64"/>
<rect x="288" y="391.5" width="1.3" height="0.5" fill="#cb1a64"/>
<rect x="290" y="390" width="1.3" height="2" fill="#cb1a64"/>
<rect x="292" y="390" width="1.3" height="2" fill="#cb1a64"/>
<rect x="298" y="389.5" width="2" height="2.5" fill="#f585b1"/>
<rect x="298" y="389.5" width="1" height="2.5" fill="#cb1a64"/>
<rect x="298" y="389.5" width="2" height="1" fill="#cb1a64"/>
<rect x="301" y="388.4" width="2" height="3.6" fill="#f585b1"/>
<rect x="301" y="388.4" width="1" height="3.6" fill="#cb1a64"/>
<rect x="301" y="388.4" width="2" height="1" fill="#cb1a64"/>
<rect x="304" y="389.5" width="2" height="2.5" fill="#f585b1"/>
<rect x="304" y="389.5" width="1" height="2.5" fill="#cb1a64"/>
<rect x="304" y="389.5" width="2" height="1" fill="#cb1a64"/>
<rect x="306" y="389.5" width="2" height="2.5" fill="#f585b1"/>
<rect x="306" y="389.5" width="1" height="2.5" fill="#cb1a64"/>
<rect x="306" y="389.5" width="2" height="1" fill="#cb1a64"/>
<rect x="312" y="389" width="2" height="3" fill="#f585b1"/>
<rect x="312" y="389" width="1" height="3" fill="#cb1a64"/>
<rect x="312" y="389" width="2" height="1" fill="#cb1a64"/>
<rect x="316" y="390" width="1.3" height="2" fill="#cb1a64"/>
<rect x="318" y="390" width="1.3" height="2" fill="#cb1a64"/>
<rect x="319" y="391.5" width="1.3" height="0.5" fill="#cb1a64"/>
<rect x="322" y="391" width="1.3" height="1" fill="#cb1a64"/>
<rect x="324" y="391.5" width="1.3" height="0.5" fill="#cb1a64"/>
<rect x="328" y="391" width="1.3" height="1" fill="#cb1a64"/>
<rect x="331" y="391.2" width="1.3" height="0.8" fill="#cb1a64"/>
<rect x="334" y="388.8" width="2" height="3.2" fill="#f585b1"/>
<rect x="334" y="388.8" width="1" height="3.2" fill="#cb1a64"/>
<rect x="334" y="388.8" width="2" height="1" fill="#cb1a64"/>
<rect x="338" y="390.5" width="1.3" height="1.5" fill="#cb1a64"/>
<rect x="343" y="389.5" width="2" height="2.5" fill="#f585b1"/>
<rect x="343" y="389.5" width="1" height="2.5" fill="#cb1a64"/>
<rect x="343" y="389.5" width="2" height="1" fill="#cb1a64"/>
<rect x="345" y="376.6" width="2" height="15.4" fill="#f585b1"/>
<rect x="345" y="376.6" width="1" height="15.4" fill="#cb1a64"/>
<rect x="345" y="376.6" width="2" height="1" fill="#cb1a64"/>
<rect x="348" y="377" width="2" height="15" fill="#f585b1"/>
<rect x="348" y="377" width="1" height="15" fill="#cb1a64"/>
<rect x="348" y="377" width="2" height="1" fill="#cb1a64"/>
<rect x="350" y="382" width="2" height="10" fill="#f585b1"/>
<rect x="350" y="382" width="1" height="10" fill="#cb1a64"/>
<rect x="350" y="382" width="2" height="1" fill="#cb1a64"/>
<rect x="352" y="385.2" width="2" height="6.8" fill="#f585b1"/>
<rect x="352" y="385.2" width="1" height="6.8" fill="#cb1a64"/>
<rect x="352" y="385.2" width="2" height="1" fill="#cb1a64"/>
<rect x="354" y="385.8" width="2" height="6.2" fill="#f585b1"/>
<rect x="354" y="385.8" width="1" height="6.2" fill="#cb1a64"/>
<rect x="354" y="385.8" width="2" height="1" fill="#cb1a64"/>
<rect x="357" y="386.2" width="2" height="5.8" fill="#f585b1"/>
<rect x="357" y="386.2" width="1" height="5.8" fill="#cb1a64"/>
<rect x="357" y="386.2" width="2" height="1" fill="#cb1a64"/>
<rect x="359" y="388.4" width="2" height="3.6" fill="#f585b1"/>
<rect x="359" y="388.4" width="1" height="3.6" fill="#cb1a64"/>
<rect x="359" y="388.4" width="2" height="1" fill="#cb1a64"/>
<rect x="361" y="386.9" width="2" height="5.1" fill="#f585b1"/>
<rect x="361" y="386.9" width="1" height="5.1" fill="#cb1a64"/>
<rect x="361" y="386.9" width="2" height="1" fill="#cb1a64"/>
<rect x="363" y="388.4" width="2" height="3.6" fill="#f585b1"/>
<rect x="363" y="388.4" width="1" height="3.6" fill="#cb1a64"/>
<rect x="363" y="388.4" width="2" height="1" fill="#cb1a64"/>
<rect x="366" y="389.5" width="2" height="2.5" fill="#f585b1"/>
<rect x="366" y="389.5" width="1" height="2.5" fill="#cb1a64"/>
<rect x="366" y="389.5" width="2" height="1" fill="#cb1a64"/>
<rect x="368" y="390" width="1.3" height="2" fill="#cb1a64"/>
<rect x="370" y="390" width="1.3" height="2" fill="#cb1a64"/>
<rect x="372" y="390" width="1.3" height="2" fill="#cb1a64"/>
<rect x="374" y="388.4" width="2" height="3.6" fill="#f585b1"/>
<rect x="374" y="388.4" width="1" height="3.6" fill="#cb1a64"/>
<rect x="374" y="388.4" width="2" height="1" fill="#cb1a64"/>
<rect x="377" y="388" width="2" height="4" fill="#f585b1"/>
<rect x="377" y="388" width="1" height="4" fill="#cb1a64"/>
<rect x="377" y="388" width="2" height="1" fill="#cb1a64"/>
<rect x="379" y="390.5" width="1.3" height="1.5" fill="#cb1a64"/>
<rect x="382" y="388" width="2" height="4" fill="#f585b1"/>
<rect x="382" y="388" width="1" height="4" fill="#cb1a64"/>
<rect x="382" y="388" width="2" height="1" fill="#cb1a64"/>
<rect x="384" y="386.2" width="2" height="5.8" fill="#f585b1"/>
<rect x="384" y="386.2" width="1" height="5.8" fill="#cb1a64"/>
<rect x="384" y="386.2" width="2" height="1" fill="#cb1a64"/>
<rect x="386" y="388.4" width="2" height="3.6" fill="#f585b1"/>
<rect x="386" y="388.4" width="1" height="3.6" fill="#cb1a64"/>
<rect x="386" y="388.4" width="2" height="1" fill="#cb1a64"/>
<rect x="388" y="390.5" width="1.3" height="1.5" fill="#cb1a64"/>
<rect x="390" y="388" width="2" height="4" fill="#f585b1"/>
<rect x="390" y="388" width="1" height="4" fill="#cb1a64"/>
<rect x="390" y="388" width="2" height="1" fill="#cb1a64"/>
<rect x="392" y="389" width="2" height="3" fill="#f585b1"/>
<rect x="392" y="389" width="1" height="3" fill="#cb1a64"/>
<rect x="392" y="389" width="2" height="1" fill="#cb1a64"/>
<rect x="394" y="389" width="2" height="3" fill="#f585b1"/>
<rect x="394" y="389" width="1" height="3" fill="#cb1a64"/>
<rect x="394" y="389" width="2" height="1" fill="#cb1a64"/>
<rect x="397" y="387.7" width="2" height="4.3" fill="#f585b1"/>
<rect x="397" y="387.7" width="1" height="4.3" fill="#cb1a64"/>
<rect x="397" y="387.7" width="2" height="1" fill="#cb1a64"/>
<rect x="400" y="390.5" width="1.3" height="1.5" fill="#cb1a64"/>
<rect x="402" y="390.5" width="1.3" height="1.5" fill="#cb1a64"/>
<rect x="404" y="390.5" width="1.3" height="1.5" fill="#cb1a64"/>
<rect x="408" y="386.2" width="2" height="5.8" fill="#f585b1"/>
<rect x="408" y="386.2" width="1" height="5.8" fill="#cb1a64"/>
<rect x="408" y="386.2" width="2" height="1" fill="#cb1a64"/>
<rect x="410" y="389.5" width="2" height="2.5" fill="#f585b1"/>
<rect x="410" y="389.5" width="1" height="2.5" fill="#cb1a64"/>
<rect x="410" y="389.5" width="2" height="1" fill="#cb1a64"/>
<rect x="412" y="387.3" width="2" height="4.7" fill="#f585b1"/>
<rect x="412" y="387.3" width="1" height="4.7" fill="#cb1a64"/>
<rect x="412" y="387.3" width="2" height="1" fill="#cb1a64"/>
<rect x="415" y="388.4" width="2" height="3.6" fill="#f585b1"/>
<rect x="415" y="388.4" width="1" height="3.6" fill="#cb1a64"/>
<rect x="415" y="388.4" width="2" height="1" fill="#cb1a64"/>
<rect x="416" y="391" width="1.3" height="1" fill="#cb1a64"/>
<rect x="418" y="390" width="1.3" height="2" fill="#cb1a64"/>
<rect x="420" y="390" width="1.3" height="2" fill="#cb1a64"/>
<rect x="422" y="390" width="1.3" height="2" fill="#cb1a64"/>
<rect x="427" y="391" width="1.3" height="1" fill="#cb1a64"/>
<rect x="429" y="391.2" width="1.3" height="0.8" fill="#cb1a64"/>
<rect x="433" y="390.5" width="1.3" height="1.5" fill="#cb1a64"/>
<rect x="437" y="389.5" width="2" height="2.5" fill="#f585b1"/>
<rect x="437" y="389.5" width="1" height="2.5" fill="#cb1a64"/>
<rect x="437" y="389.5" width="2" height="1" fill="#cb1a64"/>
<rect x="439" y="390.5" width="1.3" height="1.5" fill="#cb1a64"/>
<rect x="441" y="391.2" width="1.3" height="0.8" fill="#cb1a64"/>
<rect x="444" y="390.5" width="1.3" height="1.5" fill="#cb1a64"/>
<rect x="446" y="384.1" width="2" height="7.9" fill="#f585b1"/>
<rect x="446" y="384.1" width="1" height="7.9" fill="#cb1a64"/>
<rect x="446" y="384.1" width="2" height="1" fill="#cb1a64"/>
<rect x="450" y="389.5" width="2" height="2.5" fill="#f585b1"/>
<rect x="450" y="389.5" width="1" height="2.5" fill="#cb1a64"/>
<rect x="450" y="389.5" width="2" height="1" fill="#cb1a64"/>
<rect x="452" y="388.4" width="2" height="3.6" fill="#f585b1"/>
<rect x="452" y="388.4" width="1" height="3.6" fill="#cb1a64"/>
<rect x="452" y="388.4" width="2" height="1" fill="#cb1a64"/>
<rect x="455" y="376.3" width="2" height="15.7" fill="#f585b1"/>
<rect x="455" y="376.3" width="1" height="15.7" fill="#cb1a64"/>
<rect x="455" y="376.3" width="2" height="1" fill="#cb1a64"/>
<rect x="457" y="373.4" width="2" height="18.6" fill="#f585b1"/>
<rect x="457" y="373.4" width="1" height="18.6" fill="#cb1a64"/>
<rect x="457" y="373.4" width="2" height="1" fill="#cb1a64"/>
<rect x="459" y="388.4" width="2" height="3.6" fill="#f585b1"/>
<rect x="459" y="388.4" width="1" height="3.6" fill="#cb1a64"/>
<rect x="459" y="388.4" width="2" height="1" fill="#cb1a64"/>
<rect x="462" y="383.4" width="2" height="8.6" fill="#f585b1"/>
<rect x="462" y="383.4" width="1" height="8.6" fill="#cb1a64"/>
<rect x="462" y="383.4" width="2" height="1" fill="#cb1a64"/>
<rect x="464" y="368.2" width="2" height="23.8" fill="#f585b1"/>
<rect x="464" y="368.2" width="1" height="23.8" fill="#cb1a64"/>
<rect x="464" y="368.2" width="2" height="1" fill="#cb1a64"/>
<rect x="466" y="378" width="2" height="14" fill="#f585b1"/>
<rect x="466" y="378" width="1" height="14" fill="#cb1a64"/>
<rect x="466" y="378" width="2" height="1" fill="#cb1a64"/>
<rect x="468" y="383.4" width="2" height="8.6" fill="#f585b1"/>
<rect x="468" y="383.4" width="1" height="8.6" fill="#cb1a64"/>
<rect x="468" y="383.4" width="2" height="1" fill="#cb1a64"/>
<rect x="471" y="368.2" width="2" height="23.8" fill="#f585b1"/>
<rect x="471" y="368.2" width="1" height="23.8" fill="#cb1a64"/>
<rect x="471" y="368.2" width="2" height="1" fill="#cb1a64"/>
<rect x="473" y="376.1" width="2" height="15.9" fill="#f585b1"/>
<rect x="473" y="376.1" width="1" height="15.9" fill="#cb1a64"/>
<rect x="473" y="376.1" width="2" height="1" fill="#cb1a64"/>
<rect x="475" y="373.6" width="2" height="18.4" fill="#f585b1"/>
<rect x="475" y="373.6" width="1" height="18.4" fill="#cb1a64"/>
<rect x="475" y="373.6" width="2" height="1" fill="#cb1a64"/>
<rect x="477" y="380.6" width="2" height="11.4" fill="#f585b1"/>
<rect x="477" y="380.6" width="1" height="11.4" fill="#cb1a64"/>
<rect x="477" y="380.6" width="2" height="1" fill="#cb1a64"/>
<rect x="480" y="378.8" width="2" height="13.2" fill="#f585b1"/>
<rect x="480" y="378.8" width="1" height="13.2" fill="#cb1a64"/>
<rect x="480" y="378.8" width="2" height="1" fill="#cb1a64"/>
<rect x="482" y="387.5" width="2" height="4.5" fill="#f585b1"/>
<rect x="482" y="387.5" width="1" height="4.5" fill="#cb1a64"/>
<rect x="482" y="387.5" width="2" height="1" fill="#cb1a64"/>
<rect x="484" y="388.4" width="2" height="3.6" fill="#f585b1"/>
<rect x="484" y="388.4" width="1" height="3.6" fill="#cb1a64"/>
<rect x="484" y="388.4" width="2" height="1" fill="#cb1a64"/>
<rect x="486" y="377.2" width="2" height="14.8" fill="#f585b1"/>
<rect x="486" y="377.2" width="1" height="14.8" fill="#cb1a64"/>
<rect x="486" y="377.2" width="2" height="1" fill="#cb1a64"/>
<rect x="489" y="354.2" width="2" height="37.8" fill="#f585b1"/>
<rect x="489" y="354.2" width="1" height="37.8" fill="#cb1a64"/>
<rect x="489" y="354.2" width="2" height="1" fill="#cb1a64"/>
<rect x="491" y="356" width="2" height="36" fill="#f585b1"/>
<rect x="491" y="356" width="1" height="36" fill="#cb1a64"/>
<rect x="491" y="356" width="2" height="1" fill="#cb1a64"/>
<rect x="493" y="366.4" width="2" height="25.6" fill="#f585b1"/>
<rect x="493" y="366.4" width="1" height="25.6" fill="#cb1a64"/>
<rect x="493" y="366.4" width="2" height="1" fill="#cb1a64"/>
<rect x="495" y="360.5" width="2" height="31.5" fill="#f585b1"/>
<rect x="495" y="360.5" width="1" height="31.5" fill="#cb1a64"/>
<rect x="495" y="360.5" width="2" height="1" fill="#cb1a64"/>
<rect x="497" y="357.8" width="2" height="34.2" fill="#f585b1"/>
<rect x="497" y="357.8" width="1" height="34.2" fill="#cb1a64"/>
<rect x="497" y="357.8" width="2" height="1" fill="#cb1a64"/>
<rect x="500" y="363.2" width="2" height="28.8" fill="#f585b1"/>
<rect x="500" y="363.2" width="1" height="28.8" fill="#cb1a64"/>
<rect x="500" y="363.2" width="2" height="1" fill="#cb1a64"/>
<rect x="502" y="367.3" width="2" height="24.7" fill="#f585b1"/>
<rect x="502" y="367.3" width="1" height="24.7" fill="#cb1a64"/>
<rect x="502" y="367.3" width="2" height="1" fill="#cb1a64"/>
<rect x="504" y="372.2" width="2" height="19.8" fill="#f585b1"/>
<rect x="504" y="372.2" width="1" height="19.8" fill="#cb1a64"/>
<rect x="504" y="372.2" width="2" height="1" fill="#cb1a64"/>
<rect x="506" y="372.7" width="2" height="19.3" fill="#f585b1"/>
<rect x="506" y="372.7" width="1" height="19.3" fill="#cb1a64"/>
<rect x="506" y="372.7" width="2" height="1" fill="#cb1a64"/>
<rect x="508" y="370.7" width="2" height="21.3" fill="#f585b1"/>
<rect x="508" y="370.7" width="1" height="21.3" fill="#cb1a64"/>
<rect x="508" y="370.7" width="2" height="1" fill="#cb1a64"/>
<rect x="511" y="371.3" width="2" height="20.7" fill="#f585b1"/>
<rect x="511" y="371.3" width="1" height="20.7" fill="#cb1a64"/>
<rect x="511" y="371.3" width="2" height="1" fill="#cb1a64"/>
<rect x="513" y="371.8" width="2" height="20.2" fill="#f585b1"/>
<rect x="513" y="371.8" width="1" height="20.2" fill="#cb1a64"/>
<rect x="513" y="371.8" width="2" height="1" fill="#cb1a64"/>
<rect x="515" y="379.4" width="2" height="12.6" fill="#f585b1"/>
<rect x="515" y="379.4" width="1" height="12.6" fill="#cb1a64"/>
<rect x="515" y="379.4" width="2" height="1" fill="#cb1a64"/>
<rect x="517" y="381.2" width="2" height="10.8" fill="#f585b1"/>
<rect x="517" y="381.2" width="1" height="10.8" fill="#cb1a64"/>
<rect x="517" y="381.2" width="2" height="1" fill="#cb1a64"/>
<rect x="520" y="379.4" width="2" height="12.6" fill="#f585b1"/>
<rect x="520" y="379.4" width="1" height="12.6" fill="#cb1a64"/>
<rect x="520" y="379.4" width="2" height="1" fill="#cb1a64"/>
<rect x="522" y="380.8" width="2" height="11.2" fill="#f585b1"/>
<rect x="522" y="380.8" width="1" height="11.2" fill="#cb1a64"/>
<rect x="522" y="380.8" width="2" height="1" fill="#cb1a64"/>
<rect x="524" y="374.9" width="2" height="17.1" fill="#f585b1"/>
<rect x="524" y="374.9" width="1" height="17.1" fill="#cb1a64"/>
<rect x="524" y="374.9" width="2" height="1" fill="#cb1a64"/>
<rect x="526" y="382.1" width="2" height="9.9" fill="#f585b1"/>
<rect x="526" y="382.1" width="1" height="9.9" fill="#cb1a64"/>
<rect x="526" y="382.1" width="2" height="1" fill="#cb1a64"/>
<rect x="529" y="385.2" width="2" height="6.8" fill="#f585b1"/>
<rect x="529" y="385.2" width="1" height="6.8" fill="#cb1a64"/>
<rect x="529" y="385.2" width="2" height="1" fill="#cb1a64"/>
<rect x="531" y="382.4" width="2" height="9.6" fill="#f585b1"/>
<rect x="531" y="382.4" width="1" height="9.6" fill="#cb1a64"/>
<rect x="531" y="382.4" width="2" height="1" fill="#cb1a64"/>
<rect x="533" y="368.2" width="2" height="23.8" fill="#f585b1"/>
<rect x="533" y="368.2" width="1" height="23.8" fill="#cb1a64"/>
<rect x="533" y="368.2" width="2" height="1" fill="#cb1a64"/>
<rect x="535" y="314.5" width="2" height="77.5" fill="#f585b1"/>
<rect x="535" y="314.5" width="1" height="77.5" fill="#cb1a64"/>
<rect x="535" y="314.5" width="2" height="1" fill="#cb1a64"/>
<rect x="537" y="343.4" width="2" height="48.6" fill="#f585b1"/>
<rect x="537" y="343.4" width="1" height="48.6" fill="#cb1a64"/>
<rect x="537" y="343.4" width="2" height="1" fill="#cb1a64"/>
<rect x="540" y="339.7" width="2" height="52.3" fill="#f585b1"/>
<rect x="540" y="339.7" width="1" height="52.3" fill="#cb1a64"/>
<rect x="540" y="339.7" width="2" height="1" fill="#cb1a64"/>
<rect x="542" y="368.2" width="2" height="23.8" fill="#f585b1"/>
<rect x="542" y="368.2" width="1" height="23.8" fill="#cb1a64"/>
<rect x="542" y="368.2" width="2" height="1" fill="#cb1a64"/>
<rect x="544" y="377.6" width="2" height="14.4" fill="#f585b1"/>
<rect x="544" y="377.6" width="1" height="14.4" fill="#cb1a64"/>
<rect x="544" y="377.6" width="2" height="1" fill="#cb1a64"/>
<rect x="546" y="374.3" width="2" height="17.7" fill="#f585b1"/>
<rect x="546" y="374.3" width="1" height="17.7" fill="#cb1a64"/>
<rect x="546" y="374.3" width="2" height="1" fill="#cb1a64"/>
<rect x="548" y="378.5" width="2" height="13.5" fill="#f585b1"/>
<rect x="548" y="378.5" width="1" height="13.5" fill="#cb1a64"/>
<rect x="548" y="378.5" width="2" height="1" fill="#cb1a64"/>
<rect x="551" y="365.9" width="2" height="26.1" fill="#f585b1"/>
<rect x="551" y="365.9" width="1" height="26.1" fill="#cb1a64"/>
<rect x="551" y="365.9" width="2" height="1" fill="#cb1a64"/>
<rect x="553" y="383.4" width="2" height="8.6" fill="#f585b1"/>
<rect x="553" y="383.4" width="1" height="8.6" fill="#cb1a64"/>
<rect x="553" y="383.4" width="2" height="1" fill="#cb1a64"/>
<rect x="555" y="382.6" width="2" height="9.4" fill="#f585b1"/>
<rect x="555" y="382.6" width="1" height="9.4" fill="#cb1a64"/>
<rect x="555" y="382.6" width="2" height="1" fill="#cb1a64"/>
<rect x="558" y="379.7" width="2" height="12.3" fill="#f585b1"/>
<rect x="558" y="379.7" width="1" height="12.3" fill="#cb1a64"/>
<rect x="558" y="379.7" width="2" height="1" fill="#cb1a64"/>
<rect x="560" y="379" width="2" height="13" fill="#f585b1"/>
<rect x="560" y="379" width="1" height="13" fill="#cb1a64"/>
<rect x="560" y="379" width="2" height="1" fill="#cb1a64"/>
<rect x="562" y="382.1" width="2" height="9.9" fill="#f585b1"/>
<rect x="562" y="382.1" width="1" height="9.9" fill="#cb1a64"/>
<rect x="562" y="382.1" width="2" height="1" fill="#cb1a64"/>
<rect x="564" y="379" width="2" height="13" fill="#f585b1"/>
<rect x="564" y="379" width="1" height="13" fill="#cb1a64"/>
<rect x="564" y="379" width="2" height="1" fill="#cb1a64"/>
<rect x="566" y="378.5" width="2" height="13.5" fill="#f585b1"/>
<rect x="566" y="378.5" width="1" height="13.5" fill="#cb1a64"/>
<rect x="566" y="378.5" width="2" height="1" fill="#cb1a64"/>
<rect x="569" y="381.5" width="2" height="10.5" fill="#f585b1"/>
<rect x="569" y="381.5" width="1" height="10.5" fill="#cb1a64"/>
<rect x="569" y="381.5" width="2" height="1" fill="#cb1a64"/>
<rect x="571" y="385.2" width="2" height="6.8" fill="#f585b1"/>
<rect x="571" y="385.2" width="1" height="6.8" fill="#cb1a64"/>
<rect x="571" y="385.2" width="2" height="1" fill="#cb1a64"/>
<rect x="573" y="385.2" width="2" height="6.8" fill="#f585b1"/>
<rect x="573" y="385.2" width="1" height="6.8" fill="#cb1a64"/>
<rect x="573" y="385.2" width="2" height="1" fill="#cb1a64"/>
<rect x="575" y="374.9" width="2" height="17.1" fill="#f585b1"/>
<rect x="575" y="374.9" width="1" height="17.1" fill="#cb1a64"/>
<rect x="575" y="374.9" width="2" height="1" fill="#cb1a64"/>
<rect x="578" y="356.3" width="2" height="35.7" fill="#f585b1"/>
<rect x="578" y="356.3" width="1" height="35.7" fill="#cb1a64"/>
<rect x="578" y="356.3" width="2" height="1" fill="#cb1a64"/>
<rect x="580" y="347" width="2" height="45" fill="#f585b1"/>
<rect x="580" y="347" width="1" height="45" fill="#cb1a64"/>
<rect x="580" y="347" width="2" height="1" fill="#cb1a64"/>
<rect x="582" y="373.1" width="2" height="18.9" fill="#f585b1"/>
<rect x="582" y="373.1" width="1" height="18.9" fill="#cb1a64"/>
<rect x="582" y="373.1" width="2" height="1" fill="#cb1a64"/>
<rect x="584" y="371.3" width="2" height="20.7" fill="#f585b1"/>
<rect x="584" y="371.3" width="1" height="20.7" fill="#cb1a64"/>
<rect x="584" y="371.3" width="2" height="1" fill="#cb1a64"/>
<rect x="586" y="340.6" width="2" height="51.4" fill="#f585b1"/>
<rect x="586" y="340.6" width="1" height="51.4" fill="#cb1a64"/>
<rect x="586" y="340.6" width="2" height="1" fill="#cb1a64"/>
<rect x="589" y="366.8" width="2" height="25.2" fill="#f585b1"/>
<rect x="589" y="366.8" width="1" height="25.2" fill="#cb1a64"/>
<rect x="589" y="366.8" width="2" height="1" fill="#cb1a64"/>
<rect x="591" y="366.8" width="2" height="25.2" fill="#f585b1"/>
<rect x="591" y="366.8" width="1" height="25.2" fill="#cb1a64"/>
<rect x="591" y="366.8" width="2" height="1" fill="#cb1a64"/>
<rect x="593" y="348.8" width="2" height="43.2" fill="#f585b1"/>
<rect x="593" y="348.8" width="1" height="43.2" fill="#cb1a64"/>
<rect x="593" y="348.8" width="2" height="1" fill="#cb1a64"/>
<rect x="595" y="348.4" width="2" height="43.6" fill="#f585b1"/>
<rect x="595" y="348.4" width="1" height="43.6" fill="#cb1a64"/>
<rect x="595" y="348.4" width="2" height="1" fill="#cb1a64"/>
<rect x="598" y="365.9" width="2" height="26.1" fill="#f585b1"/>
<rect x="598" y="365.9" width="1" height="26.1" fill="#cb1a64"/>
<rect x="598" y="365.9" width="2" height="1" fill="#cb1a64"/>
<rect x="600" y="307.7" width="2" height="84.3" fill="#f585b1"/>
<rect x="600" y="307.7" width="1" height="84.3" fill="#cb1a64"/>
<rect x="600" y="307.7" width="2" height="1" fill="#cb1a64"/>
<rect x="602" y="323.2" width="2" height="68.8" fill="#f585b1"/>
<rect x="602" y="323.2" width="1" height="68.8" fill="#cb1a64"/>
<rect x="602" y="323.2" width="2" height="1" fill="#cb1a64"/>
<rect x="605" y="347.3" width="2" height="44.7" fill="#f585b1"/>
<rect x="605" y="347.3" width="1" height="44.7" fill="#cb1a64"/>
<rect x="605" y="347.3" width="2" height="1" fill="#cb1a64"/>
<rect x="607" y="362.3" width="2" height="29.7" fill="#f585b1"/>
<rect x="607" y="362.3" width="1" height="29.7" fill="#cb1a64"/>
<rect x="607" y="362.3" width="2" height="1" fill="#cb1a64"/>
<rect x="609" y="329" width="2" height="63" fill="#f585b1"/>
<rect x="609" y="329" width="1" height="63" fill="#cb1a64"/>
<rect x="609" y="329" width="2" height="1" fill="#cb1a64"/>
<rect x="611" y="368.6" width="2" height="23.4" fill="#f585b1"/>
<rect x="611" y="368.6" width="1" height="23.4" fill="#cb1a64"/>
<rect x="611" y="368.6" width="2" height="1" fill="#cb1a64"/>
<rect x="613" y="351.5" width="2" height="40.5" fill="#f585b1"/>
<rect x="613" y="351.5" width="1" height="40.5" fill="#cb1a64"/>
<rect x="613" y="351.5" width="2" height="1" fill="#cb1a64"/>
<rect x="616" y="347.3" width="2" height="44.7" fill="#f585b1"/>
<rect x="616" y="347.3" width="1" height="44.7" fill="#cb1a64"/>
<rect x="616" y="347.3" width="2" height="1" fill="#cb1a64"/>
<rect x="618" y="333.4" width="2" height="58.6" fill="#f585b1"/>
<rect x="618" y="333.4" width="1" height="58.6" fill="#cb1a64"/>
<rect x="618" y="333.4" width="2" height="1" fill="#cb1a64"/>
<polyline fill="none" stroke="#5f9fb0" stroke-width="0.9" stroke-linejoin="round" points="71.31,447.62 74.16,448.57 75.67,451.79 77.95,442.87 80.23,445.72 82.69,434.34 84.59,413.46 87.44,411.57 89.72,410.62 93.7,401.7 95.98,419.16 97.87,418.21 100.72,428.64 102.62,440.03 104.9,452.36 109.26,452.36 111.16,440.03 113.06,429.59 115.9,436.23 117.8,429.59 122.54,425.8 125.39,430.54 128.24,426.75 131.08,435.28 133.93,436.23 135.83,429.59 138.67,436.23 140.57,441.93 143.42,436.23 145.31,419.16 147.21,405.49 150.06,420.1 151.95,425.8 153.85,420.1 155.75,434.34 158.6,430.54 160.44,429.59 164.23,422.95 167.65,416.31 169.92,423.9 172.77,429.59 175.62,433.39 178.46,441.93 180.74,426.75 183.21,432.44 186.05,430.54 188.9,433.39 191.75,436.23 194.02,441.93 197.44,441.17 202.18,440.41 205.41,440.03 206.93,443.82 209.77,457.11 212.62,468.49 215.46,474.18 217.93,473.24 220.59,473.24 223.06,460.9 225.9,458.06 228.75,452.36 231.59,450.46 234.44,450.46 238.24,446.67 241.08,448.57 244.88,447.62 247.72,449.52 250.57,441.93 253.42,434.34 256.26,432.44 259.11,433.39 262.9,430.54 265.75,434.34 268.6,429.59 270.44,424.47 274.23,421.05 277.08,426.75 278.98,440.03 280.87,444.77 283.15,435.28 285.62,445.72 288.46,453.31 291.31,459.95 293.21,461.85 295.1,458.06 297.95,441.93 300.8,433.39 302.69,431.49 305.54,439.08 307.82,445.72 310.28,440.98 312.75,434.34 315.03,435.28 317.31,426.75 319.77,431.49 322.62,427.69 325.46,437.18 328.31,433.39 331.16,434.34 333.06,425.8 334.95,417.26 336.85,420.1 339.7,419.16 342.54,416.31 345.39,403.98 347.67,397.9 351.08,396.01 353.93,398.28 355.83,407.77 357.15,414.41 359.05,413.46 360.57,422.95 362.47,431.49 364.36,429.59 366.26,440.98 368.16,430.54 371.01,432.44 373.85,439.08 376.7,435.28 379.54,434.34 380.44,430.54 381.39,429.59 383.66,441.93 386.13,454.26 388.41,441.93 390.49,435.28 392.77,437.18 395.62,432.44 398.08,432.06 400.36,436.23 403.21,439.08 405.67,437.75 407.95,452.36 410.8,459 413.26,462.42 415.54,461.85 418.39,453.31 421.23,446.67 424.08,448.57 426.93,453.31 429.77,448.57 432.62,441.93 435.46,445.72 437.93,449.52 439.64,459 441.73,447.62 444,436.23 445.9,426.75 448.75,425.8 451.59,421.05 454.44,409.67 457.29,407.39 460.13,420.1 463.93,406.82 466.77,420.1 469.62,418.21 472.47,418.21 475.31,409.67 478.16,408.15 481.01,413.46 483.85,417.26 486.7,409.67 489.17,403.03 491.01,400.56 492.33,413.46 493.66,433.39 495.18,418.21 497.46,426.75 499.92,422.95 502.39,421.05 504.67,429.59 507.51,429.59 510.36,432.44 512.64,443.82 515.1,440.03 517.95,443.82 520.23,449.52 522.13,440.03 524.59,451.79 527.44,452.93 531.23,453.69 533.13,432.44 535.41,427.69 537.87,428.26 539.77,434.72 541.67,445.72 544.52,446.1 546.41,453.31 548.69,446.67 551.16,453.69 554.95,457.49 558.75,460.9 562.54,463.75 566.91,464.7 568.8,454.26 570.7,458.06 572.98,453.31 575.18,443.82 577.08,434.34 579.92,428.26 582.77,432.44 585.62,428.64 588.46,424.85 591.31,421.05 593.78,426.37 596.05,418.21 598.9,410.62 600.8,403.98 602.69,400.18 605.54,398.66 609.34,397.33 613.13,396.01 616.93,394.49 619.2,392.97"/>
<polyline fill="none" stroke="#d2145e" stroke-width="0.95" stroke-linejoin="round" points="71.31,444.39 74.16,444.77 76.05,446.1 77.95,442.5 80.8,445.34 82.69,440.98 84.59,433.39 87.44,430.54 90.28,430.54 93.7,425.42 95.98,429.59 97.87,429.59 100.72,433.96 102.62,439.08 105.46,442.87 109.26,442.87 111.16,437.18 113.06,433.96 115.9,435.85 117.8,432.82 122.54,431.49 125.39,433.39 128.24,432.44 131.08,435.28 133.93,435.85 135.83,433.39 138.67,435.28 140.57,437.18 143.42,434.72 145.31,427.69 147.21,420.67 150.06,426.75 151.95,429.59 153.85,426.75 156.7,432.44 159.17,430.92 160.44,430.54 164.23,425.8 167.65,422.95 169.92,425.8 172.77,429.59 175.62,432.44 178.46,434.34 180.74,429.59 183.21,431.49 186.05,430.54 188.9,432.44 191.75,436.23 194.02,441.55 197.44,440.41 201.23,439.65 205.03,439.08 206.93,441.93 209.77,449.52 212.62,454.26 215.46,456.16 218.31,457.11 221.16,455.59 224,452.36 227.8,450.46 231.59,449.14 235.39,448.57 239.18,447.24 242.98,447.62 247.72,447.62 250.57,445.34 254.36,443.82 258.16,442.87 261.95,441.93 265.75,441.93 269.17,440.6 271.39,439.65 275.18,439.08 278.03,440.98 280.87,444.77 282.77,441.93 285.62,445.72 289.41,448.57 293.21,449.52 296.05,447.62 298.9,442.87 301.75,441.55 304.59,441.93 307.82,445.34 311.23,441.93 314.08,440.41 316.93,438.7 319.77,439.65 322.62,438.13 325.46,440.41 328.31,439.65 331.16,439.08 334,434.72 336.85,433.96 339.7,433.39 342.54,431.49 345.39,425.8 348.24,421.05 351.08,419.54 353.93,420.1 356.77,423.9 359.05,423.9 360.95,429.59 363.42,430.54 365.31,432.44 368.16,430.16 371.01,432.06 373.85,433.96 376.7,432.44 379.54,432.44 381.39,430.54 383.66,436.23 386.13,440.98 388.41,438.13 390.49,435.85 392.77,434.72 395.62,432.44 398.08,432.44 401.31,435.28 405.67,435.28 407.95,440.98 410.8,443.44 413.64,445.34 416.49,444.77 419.34,442.87 422.18,440.98 425.03,441.93 427.87,443.44 430.72,441.93 433.57,440.6 436.41,442.87 438.69,444.77 440.59,445.72 443.06,440.03 445.9,435.85 448.75,435.28 451.59,433.96 454.44,429.59 457.29,427.69 459.56,429.59 463.93,423.9 466.77,428.26 469.62,427.13 472.47,426.37 475.31,422.95 478.16,421.43 481.01,422.95 483.85,424.47 486.7,421.43 489.54,417.64 491.39,416.31 493.66,427.69 495.56,420.1 498.03,425.8 500.49,422.95 502.77,422.95 505.62,427.69 509.41,426.75 513.21,434.34 516.05,432.44 518.9,435.85 522.13,433.96 524.59,440.03 527.44,440.6 531.23,440.41 533.13,431.49 535.98,430.54 538.44,431.11 540.72,436.23 543.57,440.41 545.46,439.65 547.36,441.55 549.26,440.6 552.11,443.82 555.9,445.72 559.7,447.24 563.49,448.57 567.29,448.57 569.18,445.72 572.03,447.24 574.31,444.2 575.56,443.06 577.08,440.98 579.92,439.08 582.77,439.65 586.57,437.18 590.36,435.28 593.78,435.85 597,431.49 599.85,426.75 602.69,422 605.54,420.67 609.34,419.54 613.13,417.64 616.93,416.88 619.2,414.41"/>
<rect x="125.5" y="444" width="91" height="32" fill="#fff"/>
<line x1="72" y1="452.5" x2="125.5" y2="452.5" stroke="#efc6d6" stroke-width="1"/>
<line x1="72" y1="468.5" x2="125.5" y2="468.5" stroke="#c4dbe4" stroke-width="1"/>
<line x1="69.2" y1="57" x2="69.2" y2="477" stroke="#858585" stroke-width="1.5"/>
<line x1="620.5" y1="57" x2="620.5" y2="477" stroke="#555" stroke-width="1"/>
<line x1="69.2" y1="307.5" x2="620.5" y2="307.5" stroke="#666" stroke-width="1"/>
<line x1="69.2" y1="392" x2="620.5" y2="392" stroke="#6e3a52" stroke-width="1"/>
<line x1="69.2" y1="476.5" x2="620.5" y2="476.5" stroke="#444" stroke-width="1"/>
<path d="M71.5 477v1.3M73.5 477v1.3M75.5 477v1.3M78.5 477v1.3M80.5 477v1.3M82.5 477v1.3M84.5 477v1.3M87.5 477v1.3M89.5 477v1.3M91.5 477v1.3M93.5 477v1.3M96.5 477v1.3M98.5 477v1.3M100.5 477v1.3M102.5 477v1.3M105.5 477v1.3M107.5 477v1.3M109.5 477v1.3M111.5 477v1.3M114.5 477v1.3M116.5 477v1.3M118.5 477v1.3M120.5 477v1.3M123.5 477v1.3M125.5 477v1.3M127.5 477v1.3M129.5 477v1.3M132.5 477v1.3M134.5 477v1.3M136.5 477v1.3M138.5 477v1.3M141.5 477v1.3M143.5 477v1.3M145.5 477v1.3M147.5 477v1.3M150.5 477v1.3M152.5 477v1.3M154.5 477v1.3M156.5 477v1.3M159.5 477v1.3M161.5 477v1.3M163.5 477v1.3M165.5 477v1.3M168.5 477v1.3M170.5 477v1.3M172.5 477v1.3M174.5 477v1.3M177.5 477v1.3M179.5 477v1.3M181.5 477v1.3M183.5 477v1.3M185.5 477v1.3M188.5 477v1.3M190.5 477v1.3M192.5 477v1.3M194.5 477v1.3M197.5 477v1.3M199.5 477v1.3M201.5 477v1.3M203.5 477v1.3M206.5 477v1.3M208.5 477v1.3M210.5 477v1.3M212.5 477v1.3M215.5 477v1.3M217.5 477v1.3M219.5 477v1.3M221.5 477v1.3M224.5 477v1.3M226.5 477v1.3M228.5 477v1.3M230.5 477v1.3M233.5 477v1.3M235.5 477v1.3M237.5 477v1.3M239.5 477v1.3M242.5 477v1.3M244.5 477v1.3M246.5 477v1.3M248.5 477v1.3M251.5 477v1.3M253.5 477v1.3M255.5 477v1.3M257.5 477v1.3M260.5 477v1.3M262.5 477v1.3M264.5 477v1.3M266.5 477v1.3M269.5 477v1.3M271.5 477v1.3M273.5 477v1.3M275.5 477v1.3M278.5 477v1.3M280.5 477v1.3M282.5 477v1.3M284.5 477v1.3M287.5 477v1.3M289.5 477v1.3M291.5 477v1.3M293.5 477v1.3M295.5 477v1.3M298.5 477v1.3M300.5 477v1.3M302.5 477v1.3M304.5 477v1.3M307.5 477v1.3M309.5 477v1.3M311.5 477v1.3M313.5 477v1.3M316.5 477v1.3M318.5 477v1.3M320.5 477v1.3M322.5 477v1.3M325.5 477v1.3M327.5 477v1.3M329.5 477v1.3M331.5 477v1.3M334.5 477v1.3M336.5 477v1.3M338.5 477v1.3M340.5 477v1.3M343.5 477v1.3M345.5 477v1.3M347.5 477v1.3M349.5 477v1.3M352.5 477v1.3M354.5 477v1.3M356.5 477v1.3M358.5 477v1.3M361.5 477v1.3M363.5 477v1.3M365.5 477v1.3M367.5 477v1.3M370.5 477v1.3M372.5 477v1.3M374.5 477v1.3M376.5 477v1.3M379.5 477v1.3M381.5 477v1.3M383.5 477v1.3M385.5 477v1.3M388.5 477v1.3M390.5 477v1.3M392.5 477v1.3M394.5 477v1.3M397.5 477v1.3M399.5 477v1.3M401.5 477v1.3M403.5 477v1.3M405.5 477v1.3M408.5 477v1.3M410.5 477v1.3M412.5 477v1.3M414.5 477v1.3M417.5 477v1.3M419.5 477v1.3M421.5 477v1.3M423.5 477v1.3M426.5 477v1.3M428.5 477v1.3M430.5 477v1.3M432.5 477v1.3M435.5 477v1.3M437.5 477v1.3M439.5 477v1.3M441.5 477v1.3M444.5 477v1.3M446.5 477v1.3M448.5 477v1.3M450.5 477v1.3M453.5 477v1.3M455.5 477v1.3M457.5 477v1.3M459.5 477v1.3M462.5 477v1.3M464.5 477v1.3M466.5 477v1.3M468.5 477v1.3M471.5 477v1.3M473.5 477v1.3M475.5 477v1.3M477.5 477v1.3M480.5 477v1.3M482.5 477v1.3M484.5 477v1.3M486.5 477v1.3M489.5 477v1.3M491.5 477v1.3M493.5 477v1.3M495.5 477v1.3M498.5 477v1.3M500.5 477v1.3M502.5 477v1.3M504.5 477v1.3M507.5 477v1.3M509.5 477v1.3M511.5 477v1.3M513.5 477v1.3M515.5 477v1.3M518.5 477v1.3M520.5 477v1.3M522.5 477v1.3M524.5 477v1.3M527.5 477v1.3M529.5 477v1.3M531.5 477v1.3M533.5 477v1.3M536.5 477v1.3M538.5 477v1.3M540.5 477v1.3M542.5 477v1.3M545.5 477v1.3M547.5 477v1.3M549.5 477v1.3M551.5 477v1.3M554.5 477v1.3M556.5 477v1.3M558.5 477v1.3M560.5 477v1.3M563.5 477v1.3M565.5 477v1.3M567.5 477v1.3M569.5 477v1.3M572.5 477v1.3M574.5 477v1.3M576.5 477v1.3M578.5 477v1.3M581.5 477v1.3M583.5 477v1.3M585.5 477v1.3M587.5 477v1.3M590.5 477v1.3M592.5 477v1.3M594.5 477v1.3M596.5 477v1.3M599.5 477v1.3M601.5 477v1.3M603.5 477v1.3M605.5 477v1.3M608.5 477v1.3M610.5 477v1.3M612.5 477v1.3M614.5 477v1.3M617.5 477v1.3M619.5 477v1.3" stroke="#8a8a8a" stroke-width="1" fill="none"/>
<line x1="70.5" y1="476.5" x2="70.5" y2="479.5" stroke="#555" stroke-width="1"/>
<line x1="125.5" y1="476.5" x2="125.5" y2="479.5" stroke="#555" stroke-width="1"/>
<line x1="165.5" y1="476.5" x2="165.5" y2="479.5" stroke="#555" stroke-width="1"/>
<line x1="197.5" y1="476.5" x2="197.5" y2="479.5" stroke="#555" stroke-width="1"/>
<line x1="250.5" y1="476.5" x2="250.5" y2="479.5" stroke="#555" stroke-width="1"/>
<line x1="293.5" y1="476.5" x2="293.5" y2="479.5" stroke="#555" stroke-width="1"/>
<line x1="340.5" y1="476.5" x2="340.5" y2="479.5" stroke="#555" stroke-width="1"/>
<line x1="386.5" y1="476.5" x2="386.5" y2="479.5" stroke="#555" stroke-width="1"/>
<line x1="433.5" y1="476.5" x2="433.5" y2="479.5" stroke="#555" stroke-width="1"/>
<line x1="484.5" y1="476.5" x2="484.5" y2="479.5" stroke="#555" stroke-width="1"/>
<line x1="531.5" y1="476.5" x2="531.5" y2="479.5" stroke="#555" stroke-width="1"/>
<line x1="575.5" y1="476.5" x2="575.5" y2="479.5" stroke="#555" stroke-width="1"/>
<line x1="620.5" y1="476.5" x2="620.5" y2="479.5" stroke="#555" stroke-width="1"/>
<g font-family="Liberation Serif, Noto Serif CJK SC, serif">
<text transform="translate(43.18 71.9) scale(1 1.12)" font-size="16.5" fill="#000" stroke="#000" stroke-width="0.22">190</text>
<text transform="translate(43.54 103.8) scale(1 1.12)" font-size="16.5" fill="#000" stroke="#000" stroke-width="0.22">171</text>
<text transform="translate(43.46 146.3) scale(1 1.12)" font-size="16.5" fill="#000" stroke="#000" stroke-width="0.22">152</text>
<text transform="translate(43.19 188.3) scale(1 1.12)" font-size="16.5" fill="#000" stroke="#000" stroke-width="0.22">133</text>
<text transform="translate(43.19 229.9) scale(1 1.12)" font-size="16.5" fill="#000" stroke="#000" stroke-width="0.22">113</text>
<text transform="translate(51.06 272) scale(1 1.12)" font-size="16.5" fill="#000" stroke="#000" stroke-width="0.22">94</text>
<text transform="translate(51.44 305) scale(1 1.12)" font-size="16.5" fill="#000" stroke="#000" stroke-width="0.22">75</text>
<text transform="translate(34.68 322.8) scale(1 1.12)" font-size="16.5" fill="#000" stroke="#000" stroke-width="0.22">6679</text>
<text transform="translate(34.99 341.5) scale(1 1.12)" font-size="16.5" fill="#000" stroke="#000" stroke-width="0.22">4461</text>
<text transform="translate(34.64 369.9) scale(1 1.12)" font-size="16.5" fill="#000" stroke="#000" stroke-width="0.22">2243</text>
<text transform="translate(51.14 389.5) scale(1 1.12)" font-size="16.5" fill="#000" stroke="#000" stroke-width="0.22">25</text>
<text transform="translate(50.09 406.8) scale(1 1.12)" font-size="16.5" fill="#000" stroke="#000" stroke-width="0.22">91</text>
<text transform="translate(49.58 425.8) scale(1 1.12)" font-size="16.5" fill="#000" stroke="#000" stroke-width="0.22">67</text>
<text transform="translate(49.74 454.3) scale(1 1.12)" font-size="16.5" fill="#000" stroke="#000" stroke-width="0.22">43</text>
<text transform="translate(49.73 474.2) scale(1 1.12)" font-size="16.5" fill="#000" stroke="#000" stroke-width="0.22">20</text>
<text transform="translate(68.15 495.2) scale(1 1.12)" font-size="16.5" fill="#000" stroke="#000" stroke-width="0.22">12</text>
<text transform="translate(121.05 495.2) scale(1 1.12)" font-size="16.5" fill="#000" stroke="#000" stroke-width="0.22">1</text>
<text transform="translate(161.37 495.2) scale(1 1.12)" font-size="16.5" fill="#000" stroke="#000" stroke-width="0.22">2</text>
<text transform="translate(193.2 495.2) scale(1 1.12)" font-size="16.5" fill="#000" stroke="#000" stroke-width="0.22">3</text>
<text transform="translate(245.94 495.2) scale(1 1.12)" font-size="16.5" fill="#000" stroke="#000" stroke-width="0.22">4</text>
<text transform="translate(288.92 495.2) scale(1 1.12)" font-size="16.5" fill="#000" stroke="#000" stroke-width="0.22">5</text>
<text transform="translate(336.07 495.2) scale(1 1.12)" font-size="16.5" fill="#000" stroke="#000" stroke-width="0.22">6</text>
<text transform="translate(382.17 495.2) scale(1 1.12)" font-size="16.5" fill="#000" stroke="#000" stroke-width="0.22">7</text>
<text transform="translate(429.08 495.2) scale(1 1.12)" font-size="16.5" fill="#000" stroke="#000" stroke-width="0.22">8</text>
<text transform="translate(480.45 495.2) scale(1 1.12)" font-size="16.5" fill="#000" stroke="#000" stroke-width="0.22">9</text>
<text transform="translate(523.14 495.2) scale(1 1.12)" font-size="16.5" fill="#000" stroke="#000" stroke-width="0.22">10</text>
<text transform="translate(567.02 495.2) scale(1 1.12)" font-size="16.5" fill="#000" stroke="#000" stroke-width="0.22">11</text>
<text transform="translate(599.95 495.2) scale(1 1.12)" font-size="16.5" fill="#000" stroke="#000" stroke-width="0.22">11/28</text>
<text transform="translate(68.15 511.2) scale(1 1.12)" font-size="16.5" fill="#000" stroke="#000" stroke-width="0.22">110</text>
<text transform="translate(121.75 511.2) scale(1 1.12)" font-size="16.5" fill="#000" stroke="#000" stroke-width="0.22">111</text>
<rect x="201.5" y="281" width="39" height="12.5" fill="#fff"/>
<text transform="translate(202.12 292.6) scale(1 1.12)" font-size="16.5" fill="#000" stroke="#000" stroke-width="0.22">03/15</text>
<rect x="212" y="297.5" width="17.5" height="12.5" fill="#fff"/>
<text transform="translate(212.45 309.5) scale(1 1.12)" font-size="16.5" fill="#000" stroke="#000" stroke-width="0.22">88</text>
<rect x="582" y="54" width="37" height="14" fill="#fff"/>
<text transform="translate(580.84 67.2) scale(1 1.12)" font-size="16.5" fill="#000" stroke="#000" stroke-width="0.22">11/28</text>
<rect x="594.5" y="71" width="24.5" height="13" fill="#fff"/>
<text transform="translate(593.53 83.8) scale(1 1.12)" font-size="16.5" fill="#000" stroke="#000" stroke-width="0.22">177</text>
<text transform="translate(125.63 74) scale(1 1.12)" font-size="16.4" fill="#2e8fb3" stroke="#2e8fb3" stroke-width="0.12">MA10(157.45)</text>
<text transform="translate(125.63 90.8) scale(1 1.12)" font-size="16.4" fill="#d2145e" stroke="#d2145e" stroke-width="0.12">MA30(130.48)</text>
<text transform="translate(125.82 458) scale(1 1.12)" font-size="16.5" fill="#d2145e" stroke="#d2145e" stroke-width="0.12">RSI30(72.01)</text>
<text transform="translate(125.82 474.6) scale(1 1.12)" font-size="16.5" fill="#2e8fb3" stroke="#2e8fb3" stroke-width="0.12">RSI10(91.10)</text>
<text x="71.67" y="325" font-size="16.8" fill="#d2145e" stroke="#d2145e" stroke-width="0.2">成</text>
<text x="88.35" y="325" font-size="16.8" fill="#d2145e" stroke="#d2145e" stroke-width="0.2">交</text>
<text x="105.13" y="325" font-size="16.8" fill="#d2145e" stroke="#d2145e" stroke-width="0.2">量</text>
<text transform="translate(122.27 324.6) scale(1 1.12)" font-size="16.5" fill="#d2145e" stroke="#d2145e" stroke-width="0.12">(</text>
<text x="128.24" y="325" font-size="16.8" fill="#d2145e" stroke="#d2145e" stroke-width="0.2">張</text>
<text transform="translate(145.67 324.6) scale(1 1.12)" font-size="16.5" fill="#d2145e" stroke="#d2145e" stroke-width="0.12">)</text>
<text transform="translate(69 27.3) scale(1 1.02)" font-size="20.7" fill="#000" stroke="#000" stroke-width="0.22">4763</text>
<text x="125.38" y="27.3" font-size="21.4" fill="#000" stroke="#000" stroke-width="0.3">材</text>
<text x="146.09" y="27.3" font-size="21.4" fill="#000" stroke="#000" stroke-width="0.3">料</text>
<text transform="translate(167.13 27.3) scale(1 1.02)" font-size="20.7" fill="#000" stroke="#000" stroke-width="0.22">-</text>
<text transform="translate(172.6 27.3) scale(1.17 1.02)" font-size="20.7" fill="#000" stroke="#000" stroke-width="0.22">KY</text>
<text transform="translate(214.18 27.3) scale(1 1.02)" font-size="20.7" fill="#000" stroke="#000" stroke-width="0.22">1111128(</text>
<text x="295.1" y="27.3" font-size="22.6" fill="#000" stroke="#000" stroke-width="0.3">日</text>
<text x="318.65" y="27.3" font-size="22.4" fill="#000" stroke="#000" stroke-width="0.3">線</text>
<text x="341.48" y="27.3" font-size="22.4" fill="#000" stroke="#000" stroke-width="0.3">圖</text>
<text transform="translate(363.93 27.3) scale(1 1.02)" font-size="20.7" fill="#000" stroke="#000" stroke-width="0.22">)</text>
<text x="67.89" y="50.3" font-size="22" fill="#000" stroke="#000" stroke-width="0.3">開</text>
<text transform="translate(89.76 50.3) scale(1 1.02)" font-size="20.7" fill="#000" stroke="#000" stroke-width="0.22">:</text>
<text transform="translate(94.98 50.3) scale(1 1.02)" font-size="20.7" fill="#000" stroke="#000" stroke-width="0.22">166</text>
<text x="129.88" y="50.3" font-size="22" fill="#000" stroke="#000" stroke-width="0.3">高</text>
<text transform="translate(152.06 50.3) scale(1 1.02)" font-size="20.7" fill="#000" stroke="#000" stroke-width="0.22">:</text>
<text transform="translate(155.78 50.3) scale(1 1.02)" font-size="20.7" fill="#000" stroke="#000" stroke-width="0.22">177</text>
<text x="193.13" y="50.3" font-size="20.8" fill="#000" stroke="#000" stroke-width="0.3">低</text>
<text transform="translate(213.56 50.3) scale(1 1.02)" font-size="20.7" fill="#000" stroke="#000" stroke-width="0.22">:</text>
<text transform="translate(218.78 50.3) scale(1 1.02)" font-size="20.7" fill="#000" stroke="#000" stroke-width="0.22">164</text>
<text x="253.95" y="50.3" font-size="21.7" fill="#000" stroke="#000" stroke-width="0.3">收</text>
<text transform="translate(275.76 50.3) scale(1 1.02)" font-size="20.7" fill="#000" stroke="#000" stroke-width="0.22">:</text>
<text transform="translate(280.98 50.3) scale(1 1.02)" font-size="20.7" fill="#000" stroke="#000" stroke-width="0.22">173.5</text>
<text x="331.17" y="50.3" font-size="22" fill="#000" stroke="#000" stroke-width="0.3">量</text>
<text transform="translate(352.96 50.3) scale(1 1.02)" font-size="20.7" fill="#000" stroke="#000" stroke-width="0.22">:</text>
<text transform="translate(358.3 50.3) scale(1 1.02)" font-size="20.7" fill="#000" stroke="#000" stroke-width="0.22">4642</text>
<text x="403.23" y="50.3" font-size="20.8" fill="#000" stroke="#000" stroke-width="0.3">漲</text>
<text transform="translate(428.71 50.3) scale(1 1.02)" font-size="20.7" fill="#000" stroke="#000" stroke-width="0.22">8.5</text>
<text x="536.74" y="29.6" font-size="21.3" fill="#000" stroke="#000" stroke-width="0.3">時</text>
<text x="558.1" y="29.6" font-size="21.3" fill="#000" stroke="#000" stroke-width="0.3">報</text>
<text x="578.51" y="29.6" font-size="21.3" fill="#000" stroke="#000" stroke-width="0.3">資</text>
<text x="599.84" y="29.6" font-size="20.8" fill="#000" stroke="#000" stroke-width="0.3">訊</text>
</g></svg>
</body></html>
